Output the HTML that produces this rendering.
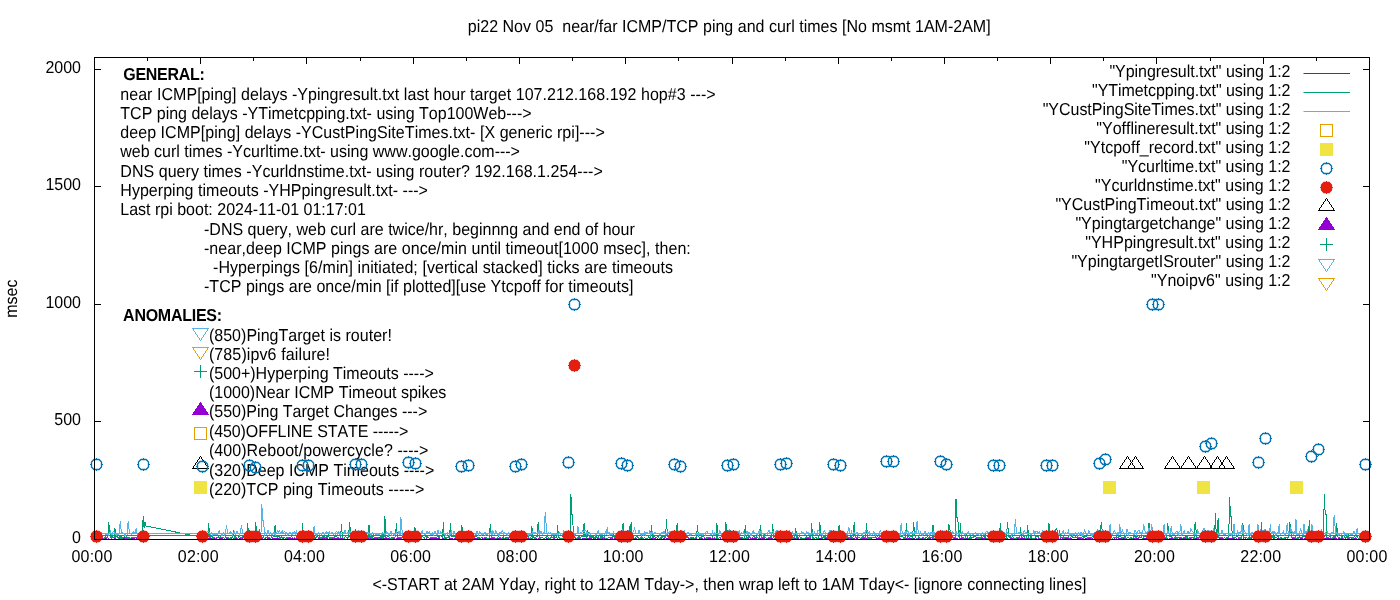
<!DOCTYPE html>
<html><head><meta charset="utf-8"><title>pi22 ping plot</title><style>html,body{margin:0;padding:0;background:#fff;overflow:hidden}</style></head><body>
<svg width="1400" height="600" viewBox="0 0 1400 600" style="display:block;font-family:'Liberation Sans',sans-serif;font-size:16px;font-kerning:none" text-rendering="geometricPrecision">
<rect width="1400" height="600" fill="#fff"/>
<path d="M94.5 539.5v-6.5M94.5 57.5v6.5M147.5 539.5v-3.5M147.5 57.5v3.5M200.5 539.5v-6.5M200.5 57.5v6.5M253.5 539.5v-3.5M253.5 57.5v3.5M306.5 539.5v-6.5M306.5 57.5v6.5M360.5 539.5v-3.5M360.5 57.5v3.5M413.5 539.5v-6.5M413.5 57.5v6.5M466.5 539.5v-3.5M466.5 57.5v3.5M519.5 539.5v-6.5M519.5 57.5v6.5M572.5 539.5v-3.5M572.5 57.5v3.5M625.5 539.5v-6.5M625.5 57.5v6.5M678.5 539.5v-3.5M678.5 57.5v3.5M732.5 539.5v-6.5M732.5 57.5v6.5M785.5 539.5v-3.5M785.5 57.5v3.5M838.5 539.5v-6.5M838.5 57.5v6.5M891.5 539.5v-3.5M891.5 57.5v3.5M944.5 539.5v-6.5M944.5 57.5v6.5M997.5 539.5v-3.5M997.5 57.5v3.5M1050.5 539.5v-6.5M1050.5 57.5v6.5M1103.5 539.5v-3.5M1103.5 57.5v3.5M1156.5 539.5v-6.5M1156.5 57.5v6.5M1210.5 539.5v-3.5M1210.5 57.5v3.5M1263.5 539.5v-6.5M1263.5 57.5v6.5M1316.5 539.5v-3.5M1316.5 57.5v3.5M1369.5 539.5v-6.5M1369.5 57.5v6.5M94.5 539.5h6.5M1369.5 539.5h-6.5M94.5 421.5h6.5M1369.5 421.5h-6.5M94.5 304.5h6.5M1369.5 304.5h-6.5M94.5 186.5h6.5M1369.5 186.5h-6.5M94.5 69.5h6.5M1369.5 69.5h-6.5" stroke="#000" stroke-width="1" fill="none"/>
<text transform="translate(81,543.1) scale(1,1.08)" text-anchor="end">0</text>
<text transform="translate(81,425.1) scale(1,1.08)" text-anchor="end">500</text>
<text transform="translate(81,308.1) scale(1,1.08)" text-anchor="end">1000</text>
<text transform="translate(81,190.1) scale(1,1.08)" text-anchor="end">1500</text>
<text transform="translate(81,73.1) scale(1,1.08)" text-anchor="end">2000</text>
<text transform="translate(91.9,562) scale(1,1.08)" text-anchor="middle" textLength="40.84" lengthAdjust="spacing">00:00</text>
<text transform="translate(198.2,562) scale(1,1.08)" text-anchor="middle" textLength="40.84" lengthAdjust="spacing">02:00</text>
<text transform="translate(304.4,562) scale(1,1.08)" text-anchor="middle" textLength="40.84" lengthAdjust="spacing">04:00</text>
<text transform="translate(410.6,562) scale(1,1.08)" text-anchor="middle" textLength="40.84" lengthAdjust="spacing">06:00</text>
<text transform="translate(516.9,562) scale(1,1.08)" text-anchor="middle" textLength="40.84" lengthAdjust="spacing">08:00</text>
<text transform="translate(623.1,562) scale(1,1.08)" text-anchor="middle" textLength="40.84" lengthAdjust="spacing">10:00</text>
<text transform="translate(729.4,562) scale(1,1.08)" text-anchor="middle" textLength="40.84" lengthAdjust="spacing">12:00</text>
<text transform="translate(835.6,562) scale(1,1.08)" text-anchor="middle" textLength="40.84" lengthAdjust="spacing">14:00</text>
<text transform="translate(941.9,562) scale(1,1.08)" text-anchor="middle" textLength="40.84" lengthAdjust="spacing">16:00</text>
<text transform="translate(1048.2,562) scale(1,1.08)" text-anchor="middle" textLength="40.84" lengthAdjust="spacing">18:00</text>
<text transform="translate(1154.4,562) scale(1,1.08)" text-anchor="middle" textLength="40.84" lengthAdjust="spacing">20:00</text>
<text transform="translate(1260.7,562) scale(1,1.08)" text-anchor="middle" textLength="40.84" lengthAdjust="spacing">22:00</text>
<text transform="translate(1366.9,562) scale(1,1.08)" text-anchor="middle" textLength="40.84" lengthAdjust="spacing">00:00</text>
<text transform="translate(729.2,32) scale(1,1.08)" text-anchor="middle" textLength="522.95" lengthAdjust="spacing" style="white-space:pre">pi22 Nov 05  near/far ICMP/TCP ping and curl times [No msmt 1AM-2AM]</text>
<text transform="translate(729.4,590) scale(1,1.08)" text-anchor="middle" textLength="714.06" lengthAdjust="spacing">&lt;-START at 2AM Yday, right to 12AM Tday-&gt;, then wrap left to 1AM Tday&lt;- [ignore connecting lines]</text>
<text transform="translate(17.3,298.6) rotate(-90) scale(1,1.08)" text-anchor="middle">msec</text>
<text transform="translate(123.3,80) scale(1,1.08)" font-weight="bold" textLength="81.55" lengthAdjust="spacing">GENERAL:</text>
<text transform="translate(120.3,100) scale(1,1.08)" textLength="595.31" lengthAdjust="spacing">near ICMP[ping] delays -Ypingresult.txt last hour target 107.212.168.192 hop#3 ---&gt;</text>
<text transform="translate(120.3,119) scale(1,1.08)">TCP ping delays -YTimetcpping.txt- using Top100Web---&gt;</text>
<text transform="translate(120.3,138) scale(1,1.08)" textLength="484.52" lengthAdjust="spacing">deep ICMP[ping] delays -YCustPingSiteTimes.txt- [X generic rpi]---&gt;</text>
<text transform="translate(120.3,157) scale(1,1.08)">web curl times -Ycurltime.txt- using www.google.com---&gt;</text>
<text transform="translate(120.3,177) scale(1,1.08)" textLength="482.47" lengthAdjust="spacing">DNS query times -Ycurldnstime.txt- using router? 192.168.1.254---&gt;</text>
<text transform="translate(120.3,196) scale(1,1.08)" textLength="307.63" lengthAdjust="spacing">Hyperping timeouts -YHPpingresult.txt- ---&gt;</text>
<text transform="translate(120.3,215) scale(1,1.08)">Last rpi boot: 2024-11-01 01:17:01</text>
<text transform="translate(204,235) scale(1,1.08)" textLength="430.76" lengthAdjust="spacing">-DNS query, web curl are twice/hr, beginnng and end of hour</text>
<text transform="translate(204,254) scale(1,1.08)" textLength="486.81" lengthAdjust="spacing">-near,deep ICMP pings are once/min until timeout[1000 msec], then:</text>
<text transform="translate(213,273) scale(1,1.08)" textLength="459.99" lengthAdjust="spacing">-Hyperpings [6/min] initiated; [vertical stacked] ticks are timeouts</text>
<text transform="translate(204,292) scale(1,1.08)" textLength="429.45" lengthAdjust="spacing">-TCP pings are once/min [if plotted][use Ytcpoff for timeouts]</text>
<text transform="translate(123.1,321) scale(1,1.08)" font-weight="bold" textLength="98.93" lengthAdjust="spacing">ANOMALIES:</text>
<text transform="translate(208.9,341) scale(1,1.08)" textLength="183.00" lengthAdjust="spacing">(850)PingTarget is router!</text>
<text transform="translate(208.9,360) scale(1,1.08)" textLength="121.17" lengthAdjust="spacing">(785)ipv6 failure!</text>
<text transform="translate(208.9,379) scale(1,1.08)">(500+)Hyperping Timeouts ----&gt;</text>
<text transform="translate(208.9,398) scale(1,1.08)">(1000)Near ICMP Timeout spikes</text>
<text transform="translate(208.9,417) scale(1,1.08)">(550)Ping Target Changes ---&gt;</text>
<text transform="translate(208.9,437) scale(1,1.08)" textLength="199.35" lengthAdjust="spacing">(450)OFFLINE STATE -----&gt;</text>
<text transform="translate(208.9,456) scale(1,1.08)" textLength="219.42" lengthAdjust="spacing">(400)Reboot/powercycle? ----&gt;</text>
<text transform="translate(208.9,475.5) scale(1,1.08)">(320)Deep ICMP Timeouts ----&gt;</text>
<text transform="translate(208.9,495) scale(1,1.08)" textLength="215.42" lengthAdjust="spacing">(220)TCP ping Timeouts -----&gt;</text>
<text transform="translate(1290.5,77.1) scale(1,1.08)" text-anchor="end" textLength="181.12" lengthAdjust="spacing">&quot;Ypingresult.txt&quot; using 1:2</text>
<text transform="translate(1290.5,96.1) scale(1,1.08)" text-anchor="end" textLength="198.50" lengthAdjust="spacing">&quot;YTimetcpping.txt&quot; using 1:2</text>
<text transform="translate(1290.5,115.1) scale(1,1.08)" text-anchor="end" textLength="247.80" lengthAdjust="spacing">&quot;YCustPingSiteTimes.txt&quot; using 1:2</text>
<text transform="translate(1290.5,134.1) scale(1,1.08)" text-anchor="end" textLength="194.17" lengthAdjust="spacing">&quot;Yofflineresult.txt&quot; using 1:2</text>
<text transform="translate(1290.5,153.1) scale(1,1.08)" text-anchor="end">&quot;Ytcpoff_record.txt&quot; using 1:2</text>
<text transform="translate(1290.5,172.1) scale(1,1.08)" text-anchor="end">&quot;Ycurltime.txt&quot; using 1:2</text>
<text transform="translate(1290.5,191.1) scale(1,1.08)" text-anchor="end" textLength="195.55" lengthAdjust="spacing">&quot;Ycurldnstime.txt&quot; using 1:2</text>
<text transform="translate(1290.5,210.1) scale(1,1.08)" text-anchor="end" textLength="235.07" lengthAdjust="spacing">&quot;YCustPingTimeout.txt&quot; using 1:2</text>
<text transform="translate(1290.5,229.1) scale(1,1.08)" text-anchor="end">&quot;Ypingtargetchange&quot; using 1:2</text>
<text transform="translate(1290.5,248.1) scale(1,1.08)" text-anchor="end" textLength="205.35" lengthAdjust="spacing">&quot;YHPpingresult.txt&quot; using 1:2</text>
<text transform="translate(1290.5,267.1) scale(1,1.08)" text-anchor="end" textLength="219.09" lengthAdjust="spacing">&quot;YpingtargetISrouter&quot; using 1:2</text>
<text transform="translate(1290.5,286.1) scale(1,1.08)" text-anchor="end" textLength="139.56" lengthAdjust="spacing">&quot;Ynoipv6&quot; using 1:2</text>
<path d="M1303.5 73.5H1350" stroke="#9400D3" stroke-width="1"/>
<path d="M1303.5 92.5H1350" stroke="#009E73" stroke-width="1"/>
<path d="M1303.5 111.5H1350" stroke="#56B4E9" stroke-width="1"/>
<rect x="1320.5" y="124.5" width="12.0" height="12.0" fill="none" stroke="#E69F00" stroke-width="1" shape-rendering="crispEdges"/>
<rect x="1320.0" y="143.0" width="13" height="13" fill="#F0E442" shape-rendering="crispEdges"/>
<path d="M1323.9 163.5H1329.1L1331.5 165.9V171.1L1329.1 173.5H1323.9L1321.5 171.1V165.9Z" fill="none" stroke="#0072B2" stroke-width="1.35" stroke-linejoin="round"/><path d="M1320.0 168.5h1M1332.0 168.5h1M1326.5 162.0v1M1326.5 174.0v1" fill="none" stroke="#0072B2" stroke-width="1" shape-rendering="crispEdges"/>
<path d="M1323.9 182.5H1329.1L1331.5 184.9V190.1L1329.1 192.5H1323.9L1321.5 190.1V184.9Z" fill="#E51E10" stroke="#E51E10" stroke-width="1.35" stroke-linejoin="round"/><path d="M1320.0 187.5h1M1332.0 187.5h1M1326.5 181.0v1M1326.5 193.0v1" fill="none" stroke="#E51E10" stroke-width="1" shape-rendering="crispEdges"/>
<polygon points="1318.5,210.5 1334.5,210.5 1326.5,198.5" fill="none" stroke="#000000" stroke-width="1" shape-rendering="crispEdges"/>
<polygon points="1318.5,229.5 1334.5,229.5 1326.5,217.5" fill="#9400D3" stroke="#9400D3" stroke-width="1" shape-rendering="crispEdges"/>
<path d="M1320.0 244.5h13M1326.5 238.0v13" stroke="#009E73" stroke-width="1" fill="none" shape-rendering="crispEdges"/>
<polygon points="1318.5,259.5 1334.5,259.5 1326.5,271.5" fill="none" stroke="#56B4E9" stroke-width="1" shape-rendering="crispEdges"/>
<polygon points="1318.5,278.5 1334.5,278.5 1326.5,290.5" fill="none" stroke="#E69F00" stroke-width="1" shape-rendering="crispEdges"/>
<polygon points="192.5,328.5 208.5,328.5 200.5,340.5" fill="none" stroke="#56B4E9" stroke-width="1" shape-rendering="crispEdges"/>
<polygon points="192.5,347.5 208.5,347.5 200.5,359.5" fill="none" stroke="#E69F00" stroke-width="1" shape-rendering="crispEdges"/>
<path d="M194.0 371.5h13M200.5 365.0v13" stroke="#009E73" stroke-width="1" fill="none" shape-rendering="crispEdges"/>
<polygon points="192.5,414.5 208.5,414.5 200.5,402.5" fill="#9400D3" stroke="#9400D3" stroke-width="1" shape-rendering="crispEdges"/>
<rect x="194.5" y="427.5" width="12.0" height="12.0" fill="none" stroke="#E69F00" stroke-width="1" shape-rendering="crispEdges"/>
<polygon points="192.5,468.5 208.5,468.5 200.5,456.5" fill="none" stroke="#000000" stroke-width="1" shape-rendering="crispEdges"/>
<rect x="194.0" y="481.0" width="13" height="13" fill="#F0E442" shape-rendering="crispEdges"/>
<clipPath id="c"><rect x="94.5" y="57.5" width="1275.0" height="482.0"/></clipPath>
<g clip-path="url(#c)" shape-rendering="crispEdges">
<path d="M200.8 539.1L201.6 539.2L202.5 538.7L203.4 538.6L204.3 539.3L205.2 539.0L206.1 538.7L206.9 538.5L207.8 538.7L208.7 539.1L209.6 539.0L210.5 538.7L211.4 538.6L212.3 538.0L213.1 539.3L214.0 538.8L214.9 539.2L215.8 539.0L216.7 538.9L217.6 539.2L218.5 539.2L219.3 539.0L220.2 538.7L221.1 538.9L222.0 538.4L222.9 539.2L223.8 539.0L224.7 539.0L225.5 539.3L226.4 539.0L227.3 538.8L228.2 539.2L229.1 538.6L230.0 539.2L230.9 538.8L231.7 539.0L232.6 539.2L233.5 538.7L234.4 538.7L235.3 538.6L236.2 538.8L237.1 539.1L237.9 539.0L238.8 539.1L239.7 538.6L240.6 539.1L241.5 538.6L242.4 539.0L243.2 539.2L244.1 539.2L245.0 539.2L245.9 539.0L246.8 539.1L247.7 538.7L248.6 539.2L249.4 538.6L250.3 538.9L251.2 538.6L252.1 538.6L253.0 539.0L253.9 538.7L254.8 538.9L255.6 539.0L256.5 538.9L257.4 538.9L258.3 539.1L259.2 539.1L260.1 539.1L261.0 538.6L261.8 538.7L262.7 538.9L263.6 539.1L264.5 538.7L265.4 539.0L266.3 539.2L267.2 538.9L268.0 538.7L268.9 538.8L269.8 539.0L270.7 539.0L271.6 539.2L272.5 538.6L273.4 538.8L274.2 539.0L275.1 538.6L276.0 538.9L276.9 539.1L277.8 538.5L278.7 538.9L279.6 538.8L280.4 538.6L281.3 539.0L282.2 539.1L283.1 538.8L284.0 539.1L284.9 539.0L285.8 539.1L286.6 538.8L287.5 538.8L288.4 538.9L289.3 539.0L290.2 538.6L291.1 539.0L291.9 538.8L292.8 539.1L293.7 539.1L294.6 538.0L295.5 538.8L296.4 539.0L297.3 538.6L298.1 538.7L299.0 538.6L299.9 538.8L300.8 538.9L301.7 538.6L302.6 538.9L303.5 538.8L304.3 538.8L305.2 538.7L306.1 538.8L307.0 538.7L307.9 538.7L308.8 538.7L309.7 538.6L310.5 538.8L311.4 539.1L312.3 538.6L313.2 539.1L314.1 538.6L315.0 539.2L315.9 538.9L316.7 539.1L317.6 539.2L318.5 538.9L319.4 538.9L320.3 539.0L321.2 538.2L322.1 539.1L322.9 538.8L323.8 539.1L324.7 538.8L325.6 538.7L326.5 538.7L327.4 538.8L328.2 539.0L329.1 539.1L330.0 538.6L330.9 539.2L331.8 538.4L332.7 538.6L333.6 539.2L334.4 539.1L335.3 538.6L336.2 539.0L337.1 538.9L338.0 539.0L338.9 538.7L339.8 538.6L340.6 538.8L341.5 538.6L342.4 538.6L343.3 539.0L344.2 539.2L345.1 539.0L346.0 539.1L346.8 539.0L347.7 538.7L348.6 539.1L349.5 539.2L350.4 539.1L351.3 538.9L352.2 538.8L353.0 538.6L353.9 539.1L354.8 538.7L355.7 538.8L356.6 538.7L357.5 539.1L358.4 538.6L359.2 538.6L360.1 538.9L361.0 538.6L361.9 539.2L362.8 538.7L363.7 539.0L364.6 539.3L365.4 538.6L366.3 538.6L367.2 538.9L368.1 539.2L369.0 538.6L369.9 538.7L370.8 539.1L371.6 538.7L372.5 538.6L373.4 538.2L374.3 538.7L375.2 538.7L376.1 538.9L376.9 538.8L377.8 539.0L378.7 538.9L379.6 537.9L380.5 538.8L381.4 538.7L382.3 538.6L383.1 538.6L384.0 539.2L384.9 538.9L385.8 539.0L386.7 538.7L387.6 538.9L388.5 538.8L389.3 538.9L390.2 538.8L391.1 539.0L392.0 538.8L392.9 538.9L393.8 538.1L394.7 538.6L395.5 539.3L396.4 539.0L397.3 538.7L398.2 538.6L399.1 539.0L400.0 538.7L400.9 539.2L401.7 538.8L402.6 539.2L403.5 539.0L404.4 538.8L405.3 539.1L406.2 538.8L407.1 538.6L407.9 539.2L408.8 538.7L409.7 539.2L410.6 538.8L411.5 538.7L412.4 539.2L413.2 538.6L414.1 538.7L415.0 539.0L415.9 538.8L416.8 539.0L417.7 538.6L418.6 538.6L419.4 538.8L420.3 539.0L421.2 539.1L422.1 539.0L423.0 539.1L423.9 539.1L424.8 538.9L425.6 539.1L426.5 538.7L427.4 539.2L428.3 539.1L429.2 539.1L430.1 539.0L431.0 538.7L431.8 539.0L432.7 538.9L433.6 538.8L434.5 538.5L435.4 538.7L436.3 538.7L437.2 538.6L438.0 538.7L438.9 538.6L439.8 539.2L440.7 539.1L441.6 539.3L442.5 538.9L443.4 538.7L444.2 538.6L445.1 538.6L446.0 538.8L446.9 538.8L447.8 539.2L448.7 539.2L449.6 538.7L450.4 538.8L451.3 538.6L452.2 538.6L453.1 539.1L454.0 539.0L454.9 538.7L455.8 538.7L456.6 538.8L457.5 538.8L458.4 538.6L459.3 538.7L460.2 538.7L461.1 539.1L461.9 539.0L462.8 539.2L463.7 538.4L464.6 538.7L465.5 539.0L466.4 537.9L467.3 538.9L468.1 539.1L469.0 538.7L469.9 538.9L470.8 539.2L471.7 538.9L472.6 539.1L473.5 539.2L474.3 539.0L475.2 538.6L476.1 539.2L477.0 538.8L477.9 538.8L478.8 538.7L479.7 538.8L480.5 538.6L481.4 539.2L482.3 539.0L483.2 538.9L484.1 538.6L485.0 538.2L485.9 539.1L486.7 538.9L487.6 538.9L488.5 539.1L489.4 538.1L490.3 538.7L491.2 539.0L492.1 538.6L492.9 539.1L493.8 538.8L494.7 538.8L495.6 539.2L496.5 538.7L497.4 538.6L498.2 539.1L499.1 538.7L500.0 538.9L500.9 538.8L501.8 538.5L502.7 539.0L503.6 538.9L504.4 538.9L505.3 539.1L506.2 538.8L507.1 538.9L508.0 538.7L508.9 539.1L509.8 539.1L510.6 538.7L511.5 539.2L512.4 538.1L513.3 539.0L514.2 539.1L515.1 539.1L516.0 538.7L516.8 538.9L517.7 538.8L518.6 539.0L519.5 539.0L520.4 538.9L521.3 538.9L522.2 538.0L523.0 538.9L523.9 539.2L524.8 538.7L525.7 538.9L526.6 539.0L527.5 538.9L528.4 538.9L529.2 538.8L530.1 539.1L531.0 538.7L531.9 538.9L532.8 538.9L533.7 539.1L534.6 538.8L535.4 539.2L536.3 538.7L537.2 539.1L538.1 538.9L539.0 539.0L539.9 538.6L540.8 539.1L541.6 539.2L542.5 539.1L543.4 539.1L544.3 539.0L545.2 539.0L546.1 539.0L546.9 538.8L547.8 539.1L548.7 539.2L549.6 538.9L550.5 538.6L551.4 539.2L552.3 539.1L553.1 539.2L554.0 538.6L554.9 539.2L555.8 539.0L556.7 539.2L557.6 538.6L558.5 539.1L559.3 538.8L560.2 538.7L561.1 539.0L562.0 539.2L562.9 539.1L563.8 538.8L564.7 538.7L565.5 538.8L566.4 538.8L567.3 538.9L568.2 538.1L569.1 539.1L570.0 538.8L570.9 539.1L571.7 539.1L572.6 538.7L573.5 538.7L574.4 539.1L575.3 538.8L576.2 538.9L577.1 539.2L577.9 539.2L578.8 538.8L579.7 539.0L580.6 538.9L581.5 539.2L582.4 538.8L583.2 538.8L584.1 538.8L585.0 538.6L585.9 538.0L586.8 539.2L587.7 538.9L588.6 538.7L589.4 539.0L590.3 538.9L591.2 538.9L592.1 539.2L593.0 539.2L593.9 538.5L594.8 538.6L595.6 539.0L596.5 539.2L597.4 538.7L598.3 539.2L599.2 538.6L600.1 538.8L601.0 538.7L601.8 538.9L602.7 538.8L603.6 539.2L604.5 538.9L605.4 539.1L606.3 538.8L607.2 539.1L608.0 539.1L608.9 539.0L609.8 539.0L610.7 538.6L611.6 538.7L612.5 538.9L613.4 539.0L614.2 539.0L615.1 538.7L616.0 539.0L616.9 538.9L617.8 538.8L618.7 538.9L619.6 539.2L620.4 538.7L621.3 539.2L622.2 538.7L623.1 538.6L624.0 539.1L624.9 539.2L625.8 539.0L626.6 538.9L627.5 539.0L628.4 538.7L629.3 538.9L630.2 538.9L631.1 538.3L631.9 538.9L632.8 539.2L633.7 538.8L634.6 539.0L635.5 538.7L636.4 538.6L637.3 539.0L638.1 539.1L639.0 538.6L639.9 539.1L640.8 538.8L641.7 539.0L642.6 538.9L643.5 539.0L644.3 539.1L645.2 539.1L646.1 539.1L647.0 538.7L647.9 538.9L648.8 539.1L649.7 539.0L650.5 539.0L651.4 538.8L652.3 538.8L653.2 539.2L654.1 538.8L655.0 538.1L655.9 538.7L656.7 539.3L657.6 539.0L658.5 539.2L659.4 538.8L660.3 538.9L661.2 538.6L662.1 539.1L662.9 539.2L663.8 538.6L664.7 539.0L665.6 539.2L666.5 539.0L667.4 538.9L668.2 538.9L669.1 538.9L670.0 539.1L670.9 538.7L671.8 538.8L672.7 538.9L673.6 538.7L674.4 538.3L675.3 538.6L676.2 538.3L677.1 539.1L678.0 538.8L678.9 538.7L679.8 539.2L680.6 539.0L681.5 539.1L682.4 539.2L683.3 539.2L684.2 539.2L685.1 539.1L686.0 539.0L686.8 539.0L687.7 539.0L688.6 538.9L689.5 539.1L690.4 539.0L691.3 538.9L692.2 538.7L693.0 538.1L693.9 538.9L694.8 539.0L695.7 538.6L696.6 539.0L697.5 539.0L698.4 539.1L699.2 538.9L700.1 538.9L701.0 538.8L701.9 538.9L702.8 538.8L703.7 539.1L704.6 538.8L705.4 539.0L706.3 539.2L707.2 538.9L708.1 538.8L709.0 538.6L709.9 539.1L710.8 538.7L711.6 538.8L712.5 538.7L713.4 539.1L714.3 538.7L715.2 538.2L716.1 539.2L716.9 538.7L717.8 538.8L718.7 539.1L719.6 539.1L720.5 539.0L721.4 539.2L722.3 538.6L723.1 538.7L724.0 538.6L724.9 539.1L725.8 538.9L726.7 538.9L727.6 539.2L728.5 538.7L729.3 538.6L730.2 539.0L731.1 538.9L732.0 539.2L732.9 538.8L733.8 539.1L734.7 538.7L735.5 539.2L736.4 539.1L737.3 538.6L738.2 538.6L739.1 539.2L740.0 538.7L740.9 539.2L741.7 538.7L742.6 538.7L743.5 539.1L744.4 539.2L745.3 538.6L746.2 539.0L747.1 538.8L747.9 538.9L748.8 538.8L749.7 539.1L750.6 538.9L751.5 538.6L752.4 539.2L753.2 538.6L754.1 539.2L755.0 538.6L755.9 539.1L756.8 538.9L757.7 539.1L758.6 538.9L759.4 538.8L760.3 538.9L761.2 539.2L762.1 538.7L763.0 539.2L763.9 538.7L764.8 539.1L765.6 539.2L766.5 539.3L767.4 539.1L768.3 538.6L769.2 539.0L770.1 538.8L771.0 538.7L771.8 538.7L772.7 538.7L773.6 539.3L774.5 539.0L775.4 539.2L776.3 538.7L777.2 538.8L778.0 539.1L778.9 539.2L779.8 538.8L780.7 538.7L781.6 538.9L782.5 538.8L783.4 538.7L784.2 539.2L785.1 539.0L786.0 539.2L786.9 538.8L787.8 538.6L788.7 539.0L789.6 539.1L790.4 539.2L791.3 538.8L792.2 538.9L793.1 538.9L794.0 538.7L794.9 538.6L795.8 538.7L796.6 538.7L797.5 539.0L798.4 538.9L799.3 539.0L800.2 539.0L801.1 538.8L801.9 539.0L802.8 539.0L803.7 539.0L804.6 539.2L805.5 538.8L806.4 538.7L807.3 538.9L808.1 539.0L809.0 538.6L809.9 539.2L810.8 538.8L811.7 539.1L812.6 539.0L813.5 538.6L814.3 538.6L815.2 539.2L816.1 538.9L817.0 538.8L817.9 538.8L818.8 539.1L819.7 538.8L820.5 538.9L821.4 538.2L822.3 538.6L823.2 539.1L824.1 539.0L825.0 538.7L825.9 538.6L826.7 539.1L827.6 538.9L828.5 539.1L829.4 539.2L830.3 539.1L831.2 538.8L832.1 539.1L832.9 538.6L833.8 538.6L834.7 538.9L835.6 539.1L836.5 538.6L837.4 538.7L838.2 538.7L839.1 538.4L840.0 538.8L840.9 538.7L841.8 539.2L842.7 539.0L843.6 538.7L844.4 539.1L845.3 538.7L846.2 538.9L847.1 538.7L848.0 538.8L848.9 538.7L849.8 538.8L850.6 538.9L851.5 538.8L852.4 539.2L853.3 538.8L854.2 538.9L855.1 539.1L856.0 539.2L856.8 538.7L857.7 538.8L858.6 539.2L859.5 539.2L860.4 538.8L861.3 539.0L862.2 538.9L863.0 539.0L863.9 538.8L864.8 538.9L865.7 539.2L866.6 538.7L867.5 539.1L868.4 539.1L869.2 539.1L870.1 539.0L871.0 538.7L871.9 539.3L872.8 539.2L873.7 539.0L874.6 539.0L875.4 539.1L876.3 538.9L877.2 539.1L878.1 538.8L879.0 538.7L879.9 538.9L880.8 538.7L881.6 539.0L882.5 538.7L883.4 539.1L884.3 538.7L885.2 538.7L886.1 539.0L886.9 538.8L887.8 539.0L888.7 539.0L889.6 539.0L890.5 539.2L891.4 538.7L892.3 539.2L893.1 539.0L894.0 538.8L894.9 538.6L895.8 539.2L896.7 539.1L897.6 539.1L898.5 538.6L899.3 538.6L900.2 538.7L901.1 539.0L902.0 539.0L902.9 539.1L903.8 538.7L904.7 538.1L905.5 539.1L906.4 538.8L907.3 538.8L908.2 538.7L909.1 538.6L910.0 538.7L910.9 539.1L911.7 538.7L912.6 538.9L913.5 539.0L914.4 538.6L915.3 539.0L916.2 539.2L917.1 538.7L917.9 539.2L918.8 538.7L919.7 539.3L920.6 539.1L921.5 539.1L922.4 538.1L923.2 538.8L924.1 538.7L925.0 538.9L925.9 539.0L926.8 539.0L927.7 538.7L928.6 539.3L929.4 539.0L930.3 538.9L931.2 539.3L932.1 538.9L933.0 539.1L933.9 538.7L934.8 539.1L935.6 538.7L936.5 538.1L937.4 538.9L938.3 538.7L939.2 539.0L940.1 538.9L941.0 538.8L941.8 538.6L942.7 539.0L943.6 538.6L944.5 538.9L945.4 539.3L946.3 538.9L947.2 538.9L948.0 539.0L948.9 538.6L949.8 538.7L950.7 539.1L951.6 538.7L952.5 539.1L953.4 538.8L954.2 538.8L955.1 539.1L956.0 538.7L956.9 539.2L957.8 538.8L958.7 539.1L959.6 538.8L960.4 538.9L961.3 538.8L962.2 539.1L963.1 538.7L964.0 539.1L964.9 539.1L965.7 538.4L966.6 539.0L967.5 538.8L968.4 538.6L969.3 538.9L970.2 538.9L971.1 539.0L971.9 539.0L972.8 539.1L973.7 539.2L974.6 539.1L975.5 538.9L976.4 538.8L977.3 538.9L978.1 538.8L979.0 538.6L979.9 539.2L980.8 538.8L981.7 538.8L982.6 538.9L983.5 539.2L984.3 538.1L985.2 538.6L986.1 539.1L987.0 538.8L987.9 539.0L988.8 538.7L989.7 539.0L990.5 539.2L991.4 538.7L992.3 538.7L993.2 539.1L994.1 538.6L995.0 539.2L995.9 539.0L996.7 539.2L997.6 538.6L998.5 538.7L999.4 538.9L1000.3 539.0L1001.2 539.2L1002.1 539.0L1002.9 537.9L1003.8 539.2L1004.7 538.9L1005.6 538.8L1006.5 538.7L1007.4 538.8L1008.2 539.1L1009.1 538.9L1010.0 539.2L1010.9 538.6L1011.8 538.6L1012.7 539.2L1013.6 538.9L1014.4 538.7L1015.3 538.7L1016.2 539.2L1017.1 539.0L1018.0 538.8L1018.9 538.6L1019.8 539.1L1020.6 538.6L1021.5 538.6L1022.4 538.6L1023.3 538.9L1024.2 538.9L1025.1 539.2L1026.0 539.1L1026.8 539.3L1027.7 538.6L1028.6 538.7L1029.5 538.9L1030.4 538.9L1031.3 539.0L1032.2 538.7L1033.0 538.7L1033.9 538.8L1034.8 538.6L1035.7 538.6L1036.6 538.7L1037.5 539.1L1038.4 538.9L1039.2 538.6L1040.1 539.0L1041.0 538.8L1041.9 539.1L1042.8 539.2L1043.7 538.8L1044.6 539.0L1045.4 539.0L1046.3 538.6L1047.2 539.0L1048.1 539.2L1049.0 539.2L1049.9 539.0L1050.8 539.0L1051.6 539.2L1052.5 539.2L1053.4 538.6L1054.3 539.1L1055.2 538.7L1056.1 538.7L1056.9 538.7L1057.8 538.7L1058.7 539.1L1059.6 539.2L1060.5 538.6L1061.4 539.1L1062.3 538.8L1063.1 538.7L1064.0 539.1L1064.9 539.3L1065.8 538.8L1066.7 539.0L1067.6 538.7L1068.5 538.6L1069.3 539.1L1070.2 538.9L1071.1 538.8L1072.0 539.2L1072.9 539.1L1073.8 539.2L1074.7 539.2L1075.5 539.2L1076.4 539.3L1077.3 538.9L1078.2 537.9L1079.1 538.8L1080.0 538.8L1080.9 538.7L1081.7 538.6L1082.6 538.6L1083.5 539.2L1084.4 539.0L1085.3 539.0L1086.2 538.9L1087.1 538.6L1087.9 539.0L1088.8 538.7L1089.7 538.6L1090.6 538.7L1091.5 538.9L1092.4 538.9L1093.2 539.0L1094.1 539.0L1095.0 539.1L1095.9 538.8L1096.8 538.8L1097.7 538.6L1098.6 538.6L1099.4 538.8L1100.3 539.3L1101.2 539.2L1102.1 539.1L1103.0 539.2L1103.9 538.8L1104.8 538.6L1105.6 538.1L1106.5 539.1L1107.4 539.1L1108.3 539.0L1109.2 539.2L1110.1 538.8L1111.0 539.0L1111.8 539.1L1112.7 538.8L1113.6 539.2L1114.5 539.0L1115.4 539.1L1116.3 538.7L1117.2 539.2L1118.0 539.2L1118.9 538.9L1119.8 538.7L1120.7 538.9L1121.6 539.0L1122.5 539.0L1123.4 538.6L1124.2 539.0L1125.1 538.6L1126.0 538.6L1126.9 539.0L1127.8 539.3L1128.7 539.2L1129.6 538.7L1130.4 538.9L1131.3 538.6L1132.2 538.7L1133.1 538.6L1134.0 538.8L1134.9 538.7L1135.8 539.1L1136.6 538.8L1137.5 539.2L1138.4 538.0L1139.3 539.1L1140.2 539.2L1141.1 539.1L1141.9 539.1L1142.8 538.6L1143.7 538.7L1144.6 538.8L1145.5 538.9L1146.4 538.7L1147.3 539.2L1148.1 538.2L1149.0 539.1L1149.9 538.6L1150.8 539.2L1151.7 539.2L1152.6 539.2L1153.5 538.9L1154.3 539.2L1155.2 538.9L1156.1 538.9L1157.0 538.9L1157.9 539.2L1158.8 539.0L1159.7 539.0L1160.5 539.1L1161.4 539.1L1162.3 538.6L1163.2 538.8L1164.1 539.0L1165.0 538.8L1165.9 539.0L1166.7 538.8L1167.6 539.0L1168.5 539.2L1169.4 538.8L1170.3 538.6L1171.2 539.1L1172.1 538.7L1172.9 538.9L1173.8 538.7L1174.7 538.8L1175.6 538.9L1176.5 538.8L1177.4 539.2L1178.2 539.0L1179.1 539.1L1180.0 538.9L1180.9 538.8L1181.8 538.7L1182.7 538.8L1183.6 538.8L1184.4 538.8L1185.3 538.9L1186.2 539.1L1187.1 538.7L1188.0 538.6L1188.9 539.2L1189.8 539.2L1190.6 538.8L1191.5 539.2L1192.4 539.2L1193.3 538.6L1194.2 539.2L1195.1 538.9L1196.0 538.6L1196.8 538.9L1197.7 539.1L1198.6 538.9L1199.5 539.2L1200.4 538.7L1201.3 539.2L1202.2 538.7L1203.0 539.1L1203.9 539.0L1204.8 538.9L1205.7 538.7L1206.6 538.8L1207.5 538.7L1208.4 539.1L1209.2 538.8L1210.1 539.0L1211.0 539.0L1211.9 538.6L1212.8 538.6L1213.7 538.6L1214.6 539.2L1215.4 538.7L1216.3 539.0L1217.2 539.1L1218.1 539.0L1219.0 539.1L1219.9 538.9L1220.8 538.9L1221.6 539.0L1222.5 538.9L1223.4 538.6L1224.3 539.1L1225.2 539.0L1226.1 538.6L1226.9 538.7L1227.8 539.1L1228.7 538.7L1229.6 538.8L1230.5 539.1L1231.4 538.5L1232.3 538.7L1233.1 539.0L1234.0 538.6L1234.9 539.1L1235.8 539.3L1236.7 538.9L1237.6 539.3L1238.5 538.7L1239.3 539.2L1240.2 539.1L1241.1 539.2L1242.0 539.0L1242.9 539.1L1243.8 538.8L1244.7 539.1L1245.5 538.6L1246.4 539.1L1247.3 539.2L1248.2 538.6L1249.1 538.9L1250.0 539.1L1250.9 538.6L1251.7 538.7L1252.6 539.2L1253.5 539.2L1254.4 538.9L1255.3 538.7L1256.2 539.2L1257.1 539.3L1257.9 538.6L1258.8 538.9L1259.7 538.7L1260.6 538.1L1261.5 539.0L1262.4 538.7L1263.2 538.7L1264.1 538.9L1265.0 538.6L1265.9 539.2L1266.8 539.1L1267.7 538.7L1268.6 539.1L1269.4 539.1L1270.3 538.9L1271.2 538.8L1272.1 539.3L1273.0 539.1L1273.9 538.6L1274.8 539.0L1275.6 539.2L1276.5 539.1L1277.4 539.0L1278.3 538.8L1279.2 538.8L1280.1 539.2L1281.0 539.0L1281.8 538.7L1282.7 539.2L1283.6 539.0L1284.5 539.0L1285.4 538.7L1286.3 539.0L1287.2 539.0L1288.0 539.0L1288.9 539.0L1289.8 539.0L1290.7 539.1L1291.6 539.0L1292.5 539.0L1293.4 538.6L1294.2 538.9L1295.1 539.0L1296.0 539.2L1296.9 538.6L1297.8 539.1L1298.7 539.0L1299.6 539.0L1300.4 538.7L1301.3 539.0L1302.2 538.0L1303.1 539.2L1304.0 539.0L1304.9 538.8L1305.8 538.8L1306.6 539.1L1307.5 538.9L1308.4 538.7L1309.3 538.9L1310.2 538.7L1311.1 538.9L1311.9 539.1L1312.8 538.9L1313.7 538.8L1314.6 538.6L1315.5 538.7L1316.4 539.0L1317.3 539.0L1318.1 539.0L1319.0 539.2L1319.9 538.8L1320.8 538.9L1321.7 538.8L1322.6 539.0L1323.5 539.0L1324.3 538.9L1325.2 538.8L1326.1 538.8L1327.0 538.7L1327.9 538.6L1328.8 538.6L1329.7 539.2L1330.5 538.7L1331.4 539.1L1332.3 538.7L1333.2 539.0L1334.1 538.8L1335.0 538.6L1335.9 538.8L1336.7 538.7L1337.6 539.2L1338.5 538.8L1339.4 538.6L1340.3 539.0L1341.2 539.0L1342.1 538.6L1342.9 538.6L1343.8 539.2L1344.7 539.0L1345.6 538.7L1346.5 539.1L1347.4 538.6L1348.2 538.8L1349.1 539.0L1350.0 539.0L1350.9 539.2L1351.8 538.8L1352.7 538.8L1353.6 539.0L1354.4 538.9L1355.3 538.8L1356.2 538.1L1357.1 539.2L1358.0 539.1L1358.9 539.3L1359.8 538.6L1360.6 538.7L1361.5 539.1L1362.4 539.1L1363.3 538.8L1364.2 538.8L1365.1 538.8L1366.0 538.8L1366.8 538.6L1367.7 538.7L1368.6 538.7L1369.5 539.5L94.5 539.5L95.4 538.7L96.3 538.8L97.2 538.6L98.0 538.8L98.9 538.9L99.8 538.9L100.7 538.6L101.6 539.1L102.5 538.9L103.4 538.8L104.2 539.0L105.1 538.6L106.0 538.8L106.9 539.2L107.8 539.1L108.7 538.6L109.6 539.2L110.4 539.1L111.3 539.3L112.2 539.1L113.1 539.1L114.0 539.2L114.9 538.7L115.8 539.2L116.6 539.2L117.5 539.2L118.4 539.1L119.3 538.8L120.2 538.9L121.1 538.9L121.9 539.0L122.8 538.9L123.7 538.7L124.6 537.9L125.5 538.9L126.4 539.0L127.3 538.8L128.1 538.9L129.0 539.2L129.9 538.8L130.8 538.9L131.7 538.9L132.6 538.6L133.5 538.2L134.3 539.0L135.2 539.0L136.1 539.1L137.0 538.8L137.9 538.8L138.8 538.6L139.7 539.0L140.5 538.6L141.4 538.7L142.3 538.9L143.2 538.8L144.1 539.1L145.0 539.1L145.9 538.9" fill="none" stroke="#9400D3" stroke-width="1.0" stroke-linejoin="round"/>
<path d="M200.8 538.4L201.6 538.6L202.5 537.5L203.4 537.4L204.3 536.6L205.2 538.8L206.1 537.2L206.9 537.9L207.8 538.5L208.7 523.5L209.6 537.3L210.5 537.4L211.4 535.7L212.3 537.1L213.1 538.7L214.0 537.7L214.9 538.0L215.8 538.6L216.7 537.1L217.6 537.1L218.5 536.9L219.3 538.0L220.2 536.7L221.1 537.8L222.0 536.8L222.9 537.3L223.8 537.4L224.7 538.6L225.5 536.5L226.4 537.1L227.3 537.1L228.2 537.8L229.1 538.6L230.0 538.7L230.9 537.7L231.7 537.2L232.6 537.3L233.5 530.2L234.4 538.3L235.3 536.7L236.2 537.8L237.1 538.0L237.9 538.3L238.8 536.9L239.7 536.7L240.6 537.4L241.5 538.5L242.4 536.8L243.2 537.1L244.1 538.1L245.0 537.7L245.9 538.3L246.8 537.3L247.7 523.5L248.6 536.5L249.4 535.7L250.3 538.7L251.2 537.5L252.1 536.5L253.0 535.0L253.9 538.2L254.8 538.7L255.6 522.3L256.5 530.1L257.4 536.5L258.3 538.3L259.2 529.6L260.1 538.4L261.0 538.0L261.8 537.6L262.7 537.0L263.6 536.9L264.5 538.6L265.4 537.1L266.3 537.7L267.2 536.7L268.0 537.5L268.9 536.9L269.8 537.7L270.7 538.3L271.6 536.9L272.5 537.1L273.4 536.7L274.2 536.5L275.1 525.2L276.0 536.7L276.9 536.5L277.8 537.5L278.7 535.0L279.6 538.6L280.4 538.4L281.3 536.9L282.2 538.4L283.1 537.1L284.0 537.2L284.9 537.6L285.8 538.6L286.6 537.6L287.5 537.1L288.4 537.6L289.3 537.5L290.2 537.9L291.1 536.7L291.9 536.8L292.8 537.6L293.7 538.3L294.6 537.6L295.5 538.7L296.4 537.6L297.3 536.9L298.1 537.6L299.0 538.6L299.9 537.8L300.8 536.6L301.7 537.7L302.6 523.5L303.5 536.7L304.3 538.0L305.2 537.3L306.1 538.5L307.0 538.7L307.9 538.3L308.8 538.0L309.7 534.9L310.5 538.5L311.4 538.2L312.3 537.5L313.2 537.9L314.1 537.6L315.0 538.3L315.9 537.3L316.7 536.8L317.6 536.8L318.5 537.1L319.4 536.7L320.3 538.1L321.2 538.3L322.1 536.7L322.9 538.2L323.8 535.4L324.7 537.8L325.6 538.5L326.5 536.5L327.4 537.2L328.2 534.9L329.1 537.0L330.0 537.2L330.9 538.5L331.8 537.5L332.7 537.5L333.6 538.4L334.4 536.8L335.3 536.4L336.2 536.6L337.1 537.0L338.0 537.7L338.9 537.8L339.8 538.8L340.6 536.8L341.5 524.5L342.4 537.8L343.3 538.4L344.2 538.8L345.1 536.9L346.0 536.8L346.8 537.8L347.7 537.6L348.6 536.9L349.5 522.3L350.4 530.1L351.3 537.8L352.2 536.7L353.0 537.0L353.9 537.8L354.8 538.6L355.7 529.7L356.6 537.3L357.5 536.6L358.4 538.0L359.2 537.5L360.1 537.9L361.0 537.3L361.9 537.0L362.8 538.7L363.7 537.1L364.6 537.2L365.4 537.1L366.3 536.7L367.2 537.6L368.1 537.5L369.0 525.2L369.9 538.6L370.8 533.9L371.6 538.4L372.5 538.4L373.4 534.2L374.3 537.8L375.2 537.4L376.1 538.1L376.9 537.5L377.8 537.1L378.7 538.8L379.6 538.7L380.5 537.0L381.4 536.7L382.3 538.7L383.1 533.6L384.0 537.8L384.9 516.2L385.8 537.6L386.7 537.1L387.6 536.5L388.5 535.3L389.3 537.7L390.2 538.7L391.1 538.5L392.0 537.2L392.9 538.2L393.8 537.8L394.7 537.5L395.5 536.6L396.4 523.0L397.3 537.0L398.2 538.0L399.1 537.2L400.0 537.4L400.9 537.0L401.7 538.2L402.6 536.6L403.5 537.8L404.4 537.8L405.3 538.6L406.2 536.4L407.1 537.5L407.9 537.9L408.8 538.3L409.7 537.0L410.6 536.0L411.5 537.3L412.4 538.3L413.2 538.2L414.1 537.9L415.0 527.5L415.9 537.5L416.8 536.6L417.7 535.0L418.6 536.8L419.4 537.7L420.3 538.1L421.2 538.6L422.1 536.2L423.0 537.1L423.9 538.1L424.8 538.0L425.6 535.6L426.5 537.5L427.4 536.6L428.3 537.8L429.2 538.1L430.1 537.9L431.0 536.7L431.8 537.9L432.7 537.9L433.6 537.9L434.5 537.5L435.4 537.5L436.3 537.5L437.2 537.0L438.0 536.4L438.9 537.5L439.8 536.5L440.7 535.1L441.6 536.7L442.5 537.1L443.4 522.3L444.2 538.5L445.1 537.3L446.0 538.3L446.9 537.6L447.8 537.9L448.7 536.5L449.6 537.6L450.4 523.0L451.3 536.6L452.2 536.9L453.1 536.8L454.0 536.8L454.9 536.5L455.8 537.6L456.6 536.9L457.5 537.8L458.4 537.1L459.3 537.9L460.2 538.3L461.1 538.1L461.9 525.2L462.8 538.5L463.7 537.0L464.6 538.6L465.5 537.4L466.4 538.1L467.3 538.3L468.1 537.1L469.0 538.3L469.9 538.1L470.8 537.0L471.7 537.5L472.6 537.7L473.5 536.7L474.3 538.0L475.2 536.5L476.1 535.2L477.0 536.9L477.9 537.6L478.8 538.1L479.7 537.2L480.5 538.8L481.4 537.9L482.3 537.1L483.2 538.4L484.1 538.0L485.0 536.8L485.9 537.3L486.7 538.2L487.6 538.4L488.5 538.8L489.4 536.8L490.3 524.5L491.2 535.5L492.1 537.7L492.9 537.4L493.8 538.1L494.7 537.8L495.6 538.6L496.5 538.3L497.4 537.6L498.2 536.8L499.1 537.1L500.0 537.7L500.9 537.9L501.8 538.5L502.7 537.7L503.6 536.8L504.4 538.8L505.3 537.1L506.2 537.5L507.1 538.8L508.0 536.9L508.9 537.3L509.8 537.9L510.6 538.1L511.5 537.9L512.4 538.2L513.3 537.1L514.2 536.6L515.1 537.1L516.0 536.4L516.8 538.6L517.7 537.1L518.6 537.8L519.5 536.7L520.4 538.4L521.3 534.8L522.2 537.8L523.0 537.3L523.9 536.9L524.8 538.0L525.7 538.8L526.6 537.1L527.5 536.9L528.4 536.3L529.2 538.0L530.1 538.5L531.0 537.6L531.9 526.6L532.8 538.4L533.7 536.7L534.6 538.0L535.4 538.5L536.3 536.5L537.2 537.1L538.1 522.3L539.0 530.1L539.9 538.6L540.8 537.4L541.6 538.0L542.5 537.9L543.4 538.5L544.3 538.5L545.2 537.5L546.1 537.5L546.9 536.7L547.8 536.9L548.7 538.5L549.6 538.1L550.5 538.2L551.4 536.8L552.3 537.4L553.1 538.4L554.0 536.6L554.9 538.1L555.8 537.1L556.7 537.4L557.6 525.2L558.5 537.7L559.3 537.9L560.2 538.4L561.1 538.2L562.0 538.0L562.9 538.7L563.8 538.5L564.7 537.4L565.5 537.8L566.4 537.2L567.3 537.0L568.2 536.5L569.1 536.8L570.0 537.8L570.9 493.9L571.7 514.4L572.6 514.4L573.5 538.7L574.4 536.7L575.3 537.4L576.2 538.1L577.1 538.6L577.9 537.7L578.8 535.6L579.7 537.6L580.6 538.1L581.5 535.2L582.4 536.5L583.2 536.8L584.1 523.0L585.0 537.0L585.9 534.1L586.8 538.5L587.7 530.7L588.6 535.1L589.4 536.9L590.3 538.0L591.2 535.7L592.1 538.1L593.0 536.6L593.9 537.7L594.8 538.1L595.6 536.7L596.5 536.8L597.4 537.7L598.3 536.7L599.2 538.3L600.1 538.3L601.0 536.3L601.8 538.1L602.7 536.8L603.6 538.5L604.5 536.6L605.4 538.6L606.3 538.1L607.2 538.3L608.0 538.2L608.9 536.9L609.8 537.2L610.7 537.4L611.6 538.1L612.5 537.2L613.4 534.1L614.2 537.8L615.1 535.6L616.0 538.1L616.9 536.0L617.8 537.0L618.7 538.1L619.6 538.4L620.4 535.0L621.3 537.0L622.2 536.6L623.1 523.0L624.0 537.3L624.9 537.2L625.8 537.6L626.6 536.8L627.5 537.6L628.4 538.4L629.3 526.6L630.2 538.2L631.1 522.3L631.9 536.9L632.8 537.6L633.7 537.4L634.6 538.7L635.5 537.1L636.4 536.7L637.3 536.8L638.1 537.8L639.0 538.2L639.9 538.6L640.8 537.5L641.7 536.9L642.6 538.5L643.5 538.7L644.3 537.3L645.2 538.2L646.1 538.6L647.0 538.4L647.9 538.4L648.8 536.8L649.7 538.7L650.5 537.9L651.4 525.2L652.3 537.0L653.2 538.5L654.1 536.3L655.0 536.7L655.9 537.9L656.7 537.7L657.6 536.5L658.5 537.1L659.4 538.2L660.3 538.2L661.2 536.6L662.1 538.0L662.9 536.0L663.8 536.1L664.7 537.2L665.6 537.4L666.5 519.3L667.4 536.8L668.2 537.0L669.1 538.0L670.0 537.5L670.9 538.3L671.8 537.7L672.7 537.7L673.6 537.2L674.4 538.3L675.3 538.6L676.2 537.9L677.1 523.7L678.0 538.2L678.9 536.6L679.8 538.2L680.6 538.4L681.5 537.9L682.4 537.1L683.3 538.7L684.2 535.0L685.1 538.0L686.0 536.3L686.8 537.7L687.7 536.4L688.6 537.8L689.5 538.5L690.4 538.2L691.3 537.2L692.2 538.3L693.0 537.1L693.9 537.9L694.8 538.3L695.7 538.0L696.6 536.6L697.5 525.2L698.4 536.5L699.2 537.2L700.1 538.3L701.0 537.2L701.9 536.8L702.8 535.9L703.7 536.6L704.6 538.0L705.4 538.1L706.3 537.8L707.2 538.4L708.1 537.1L709.0 537.8L709.9 537.4L710.8 537.5L711.6 538.7L712.5 536.6L713.4 538.7L714.3 537.4L715.2 538.0L716.1 538.7L716.9 523.0L717.8 538.2L718.7 538.4L719.6 537.3L720.5 537.9L721.4 536.6L722.3 537.3L723.1 537.8L724.0 538.1L724.9 536.7L725.8 522.3L726.7 530.1L727.6 537.9L728.5 538.4L729.3 538.3L730.2 530.9L731.1 538.2L732.0 537.3L732.9 537.3L733.8 536.8L734.7 538.0L735.5 536.7L736.4 537.1L737.3 537.2L738.2 536.9L739.1 537.3L740.0 537.5L740.9 538.1L741.7 537.5L742.6 538.2L743.5 538.4L744.4 538.3L745.3 525.2L746.2 538.5L747.1 537.0L747.9 538.4L748.8 535.9L749.7 537.6L750.6 537.9L751.5 538.2L752.4 538.0L753.2 537.0L754.1 536.8L755.0 537.8L755.9 537.3L756.8 536.9L757.7 537.9L758.6 538.3L759.4 538.8L760.3 525.2L761.2 538.5L762.1 537.8L763.0 537.9L763.9 534.1L764.8 537.6L765.6 537.1L766.5 538.5L767.4 538.7L768.3 537.7L769.2 538.1L770.1 536.8L771.0 537.9L771.8 537.0L772.7 524.5L773.6 537.5L774.5 538.4L775.4 538.5L776.3 538.2L777.2 538.5L778.0 538.7L778.9 538.5L779.8 538.2L780.7 537.7L781.6 538.0L782.5 536.7L783.4 538.6L784.2 537.7L785.1 538.3L786.0 537.7L786.9 536.9L787.8 538.7L788.7 537.3L789.6 538.1L790.4 536.8L791.3 537.8L792.2 537.1L793.1 538.7L794.0 537.3L794.9 537.0L795.8 528.4L796.6 538.8L797.5 536.9L798.4 537.1L799.3 536.9L800.2 537.0L801.1 538.6L801.9 537.8L802.8 538.2L803.7 538.7L804.6 538.3L805.5 537.9L806.4 536.9L807.3 537.3L808.1 538.1L809.0 536.9L809.9 537.1L810.8 537.0L811.7 523.5L812.6 538.5L813.5 538.0L814.3 538.8L815.2 537.8L816.1 537.5L817.0 538.3L817.9 538.0L818.8 538.5L819.7 522.3L820.5 530.1L821.4 537.1L822.3 538.2L823.2 536.6L824.1 538.4L825.0 536.5L825.9 537.3L826.7 537.3L827.6 537.3L828.5 536.8L829.4 537.6L830.3 538.5L831.2 537.2L832.1 537.2L832.9 537.9L833.8 537.4L834.7 535.5L835.6 537.7L836.5 537.4L837.4 538.4L838.2 536.5L839.1 525.2L840.0 536.5L840.9 536.8L841.8 536.5L842.7 538.2L843.6 537.3L844.4 536.8L845.3 537.6L846.2 538.6L847.1 537.1L848.0 536.9L848.9 537.5L849.8 538.3L850.6 535.5L851.5 536.9L852.4 538.2L853.3 536.8L854.2 522.3L855.1 536.9L856.0 537.8L856.8 538.0L857.7 536.2L858.6 537.9L859.5 537.3L860.4 538.6L861.3 538.3L862.2 536.7L863.0 538.3L863.9 536.7L864.8 538.1L865.7 538.1L866.6 523.0L867.5 538.5L868.4 537.7L869.2 538.5L870.1 537.4L871.0 538.3L871.9 537.2L872.8 537.9L873.7 537.8L874.6 537.3L875.4 536.9L876.3 537.7L877.2 536.6L878.1 537.1L879.0 537.4L879.9 536.7L880.8 536.8L881.6 537.7L882.5 537.9L883.4 537.4L884.3 538.6L885.2 538.1L886.1 536.6L886.9 537.2L887.8 538.2L888.7 538.5L889.6 538.2L890.5 538.0L891.4 536.8L892.3 534.6L893.1 538.6L894.0 537.9L894.9 537.2L895.8 536.7L896.7 538.7L897.6 537.7L898.5 537.7L899.3 537.2L900.2 536.5L901.1 536.5L902.0 536.8L902.9 537.1L903.8 538.6L904.7 537.9L905.5 538.3L906.4 523.5L907.3 538.5L908.2 536.5L909.1 537.3L910.0 537.0L910.9 536.9L911.7 535.4L912.6 538.8L913.5 522.1L914.4 529.9L915.3 537.5L916.2 538.5L917.1 538.1L917.9 538.5L918.8 536.8L919.7 538.1L920.6 538.2L921.5 538.7L922.4 537.7L923.2 537.7L924.1 538.5L925.0 538.4L925.9 537.6L926.8 537.4L927.7 536.5L928.6 538.8L929.4 536.9L930.3 537.1L931.2 537.2L932.1 538.1L933.0 525.2L933.9 538.7L934.8 538.6L935.6 538.5L936.5 538.0L937.4 537.3L938.3 536.6L939.2 537.6L940.1 537.9L941.0 537.1L941.8 537.9L942.7 537.7L943.6 537.8L944.5 538.7L945.4 538.6L946.3 537.5L947.2 537.0L948.0 538.1L948.9 524.5L949.8 527.8L950.7 538.8L951.6 536.5L952.5 537.4L953.4 538.1L954.2 537.4L955.1 537.6L956.0 499.1L956.9 517.3L957.8 517.3L958.7 536.8L959.6 538.1L960.4 523.0L961.3 536.8L962.2 538.0L963.1 536.9L964.0 538.7L964.9 538.7L965.7 537.5L966.6 534.2L967.5 537.0L968.4 538.8L969.3 537.8L970.2 536.5L971.1 538.6L971.9 537.8L972.8 537.9L973.7 536.7L974.6 536.7L975.5 536.8L976.4 537.1L977.3 538.1L978.1 537.5L979.0 538.3L979.9 537.5L980.8 538.5L981.7 536.3L982.6 537.9L983.5 536.6L984.3 537.2L985.2 534.5L986.1 538.4L987.0 538.3L987.9 538.4L988.8 537.4L989.7 537.9L990.5 536.8L991.4 537.4L992.3 536.5L993.2 537.2L994.1 538.2L995.0 537.4L995.9 538.6L996.7 537.9L997.6 537.8L998.5 537.5L999.4 536.7L1000.3 523.5L1001.2 536.0L1002.1 534.5L1002.9 537.5L1003.8 538.0L1004.7 536.6L1005.6 534.3L1006.5 538.3L1007.4 522.3L1008.2 530.1L1009.1 537.4L1010.0 536.6L1010.9 537.9L1011.8 537.1L1012.7 536.8L1013.6 538.2L1014.4 538.7L1015.3 538.2L1016.2 538.2L1017.1 537.7L1018.0 538.1L1018.9 537.6L1019.8 538.4L1020.6 527.5L1021.5 537.5L1022.4 537.5L1023.3 536.6L1024.2 535.1L1025.1 537.9L1026.0 538.2L1026.8 537.9L1027.7 525.2L1028.6 537.5L1029.5 538.2L1030.4 538.5L1031.3 534.3L1032.2 538.6L1033.0 538.5L1033.9 538.1L1034.8 538.7L1035.7 536.8L1036.6 536.5L1037.5 536.8L1038.4 535.8L1039.2 538.4L1040.1 538.0L1041.0 538.3L1041.9 537.8L1042.8 538.6L1043.7 537.5L1044.6 537.5L1045.4 538.1L1046.3 537.1L1047.2 536.5L1048.1 536.6L1049.0 523.5L1049.9 537.4L1050.8 537.4L1051.6 534.9L1052.5 536.2L1053.4 536.8L1054.3 536.0L1055.2 537.2L1056.1 528.2L1056.9 529.0L1057.8 536.5L1058.7 537.8L1059.6 530.6L1060.5 537.4L1061.4 538.0L1062.3 537.7L1063.1 536.7L1064.0 538.4L1064.9 537.7L1065.8 538.0L1066.7 537.3L1067.6 537.6L1068.5 536.7L1069.3 538.2L1070.2 538.0L1071.1 537.2L1072.0 535.0L1072.9 538.2L1073.8 537.8L1074.7 537.9L1075.5 536.7L1076.4 537.9L1077.3 536.9L1078.2 538.0L1079.1 537.9L1080.0 537.4L1080.9 537.7L1081.7 538.8L1082.6 534.9L1083.5 538.5L1084.4 536.7L1085.3 536.6L1086.2 536.6L1087.1 537.1L1087.9 538.3L1088.8 537.2L1089.7 537.1L1090.6 537.7L1091.5 538.5L1092.4 536.0L1093.2 537.0L1094.1 538.4L1095.0 537.6L1095.9 537.5L1096.8 537.6L1097.7 538.6L1098.6 538.6L1099.4 537.0L1100.3 537.6L1101.2 522.3L1102.1 530.1L1103.0 536.5L1103.9 537.4L1104.8 537.7L1105.6 536.6L1106.5 538.7L1107.4 537.3L1108.3 538.4L1109.2 537.6L1110.1 536.9L1111.0 537.3L1111.8 537.4L1112.7 538.7L1113.6 537.3L1114.5 537.7L1115.4 538.0L1116.3 536.7L1117.2 537.8L1118.0 537.7L1118.9 536.6L1119.8 536.6L1120.7 536.7L1121.6 537.6L1122.5 538.1L1123.4 537.1L1124.2 537.4L1125.1 536.6L1126.0 538.6L1126.9 538.0L1127.8 537.6L1128.7 537.6L1129.6 538.8L1130.4 538.2L1131.3 537.3L1132.2 538.6L1133.1 537.7L1134.0 536.5L1134.9 535.1L1135.8 538.2L1136.6 536.9L1137.5 536.7L1138.4 537.8L1139.3 536.6L1140.2 537.7L1141.1 536.8L1141.9 538.0L1142.8 538.3L1143.7 536.9L1144.6 536.6L1145.5 536.9L1146.4 536.9L1147.3 538.4L1148.1 538.1L1149.0 523.0L1149.9 538.0L1150.8 537.4L1151.7 536.6L1152.6 538.6L1153.5 538.5L1154.3 536.7L1155.2 538.4L1156.1 537.0L1157.0 537.3L1157.9 534.2L1158.8 537.0L1159.7 536.7L1160.5 536.6L1161.4 537.6L1162.3 537.4L1163.2 536.9L1164.1 537.3L1165.0 537.2L1165.9 538.1L1166.7 538.4L1167.6 523.0L1168.5 530.4L1169.4 536.7L1170.3 536.6L1171.2 536.5L1172.1 538.0L1172.9 537.6L1173.8 538.7L1174.7 537.5L1175.6 537.0L1176.5 538.3L1177.4 538.2L1178.2 537.5L1179.1 537.6L1180.0 537.3L1180.9 537.8L1181.8 537.7L1182.7 538.5L1183.6 537.2L1184.4 537.5L1185.3 536.6L1186.2 538.2L1187.1 536.4L1188.0 538.3L1188.9 538.7L1189.8 537.5L1190.6 537.1L1191.5 538.0L1192.4 537.3L1193.3 537.7L1194.2 538.5L1195.1 522.3L1196.0 530.1L1196.8 537.2L1197.7 538.5L1198.6 537.4L1199.5 537.8L1200.4 537.2L1201.3 538.7L1202.2 536.9L1203.0 537.5L1203.9 534.6L1204.8 536.8L1205.7 537.4L1206.6 535.5L1207.5 538.3L1208.4 537.6L1209.2 537.9L1210.1 538.2L1211.0 537.1L1211.9 537.9L1212.8 537.7L1213.7 537.3L1214.6 538.1L1215.4 513.2L1216.3 536.7L1217.2 537.9L1218.1 518.3L1219.0 537.9L1219.9 537.1L1220.8 537.1L1221.6 537.3L1222.5 537.8L1223.4 538.3L1224.3 537.5L1225.2 538.0L1226.1 538.8L1226.9 537.0L1227.8 537.4L1228.7 537.9L1229.6 497.2L1230.5 516.2L1231.4 516.2L1232.3 537.9L1233.1 537.1L1234.0 537.0L1234.9 538.2L1235.8 537.5L1236.7 536.5L1237.6 537.0L1238.5 537.1L1239.3 538.1L1240.2 537.6L1241.1 538.4L1242.0 536.7L1242.9 523.0L1243.8 537.8L1244.7 537.4L1245.5 537.5L1246.4 537.5L1247.3 538.0L1248.2 538.6L1249.1 537.2L1250.0 536.8L1250.9 538.2L1251.7 536.3L1252.6 537.2L1253.5 538.1L1254.4 536.6L1255.3 538.1L1256.2 536.9L1257.1 538.2L1257.9 534.5L1258.8 536.8L1259.7 537.1L1260.6 538.0L1261.5 522.1L1262.4 538.1L1263.2 536.9L1264.1 537.4L1265.0 538.3L1265.9 537.3L1266.8 536.5L1267.7 537.8L1268.6 536.8L1269.4 537.2L1270.3 538.0L1271.2 538.3L1272.1 536.7L1273.0 537.9L1273.9 534.8L1274.8 538.6L1275.6 537.5L1276.5 537.4L1277.4 536.5L1278.3 536.4L1279.2 538.7L1280.1 538.4L1281.0 537.2L1281.8 538.0L1282.7 538.1L1283.6 538.0L1284.5 538.2L1285.4 537.2L1286.3 537.4L1287.2 538.5L1288.0 537.7L1288.9 538.1L1289.8 522.1L1290.7 529.9L1291.6 537.6L1292.5 537.9L1293.4 537.7L1294.2 537.5L1295.1 536.7L1296.0 538.7L1296.9 538.7L1297.8 537.3L1298.7 538.3L1299.6 536.8L1300.4 537.2L1301.3 537.7L1302.2 537.5L1303.1 536.5L1304.0 536.0L1304.9 536.5L1305.8 537.6L1306.6 536.8L1307.5 533.2L1308.4 538.8L1309.3 520.0L1310.2 538.5L1311.1 536.6L1311.9 537.0L1312.8 537.4L1313.7 537.7L1314.6 537.2L1315.5 537.7L1316.4 538.0L1317.3 536.6L1318.1 537.3L1319.0 538.6L1319.9 538.0L1320.8 535.4L1321.7 538.2L1322.6 537.1L1323.5 536.0L1324.3 494.1L1325.2 514.5L1326.1 514.5L1327.0 538.0L1327.9 536.8L1328.8 537.3L1329.7 534.7L1330.5 537.9L1331.4 538.2L1332.3 538.4L1333.2 536.5L1334.1 538.1L1335.0 536.6L1335.9 538.2L1336.7 523.0L1337.6 536.5L1338.5 537.3L1339.4 537.1L1340.3 538.7L1341.2 537.9L1342.1 535.4L1342.9 537.9L1343.8 538.4L1344.7 536.6L1345.6 537.6L1346.5 537.0L1347.4 538.2L1348.2 534.2L1349.1 538.7L1350.0 537.7L1350.9 537.3L1351.8 537.0L1352.7 538.7L1353.6 538.4L1354.4 535.8L1355.3 537.7L1356.2 536.8L1357.1 536.3L1358.0 538.1L1358.9 538.5L1359.8 537.3L1360.6 538.4L1361.5 537.9L1362.4 537.5L1363.3 537.9L1364.2 538.7L1365.1 538.3L1366.0 538.8L1366.8 537.4L1367.7 537.5L1368.6 538.5L1369.5 535.3L94.5 535.3L95.4 536.6L96.3 537.6L97.2 538.4L98.0 537.3L98.9 538.6L99.8 538.6L100.7 533.9L101.6 536.5L102.5 537.3L103.4 538.8L104.2 538.7L105.1 536.7L106.0 537.8L106.9 537.6L107.8 537.6L108.7 522.3L109.6 530.1L110.4 536.8L111.3 538.1L112.2 535.6L113.1 537.9L114.0 537.9L114.9 527.9L115.8 537.7L116.6 535.8L117.5 537.0L118.4 538.6L119.3 536.5L120.2 538.5L121.1 535.9L121.9 538.4L122.8 537.7L123.7 537.1L124.6 535.9L125.5 538.3L126.4 536.5L127.3 538.1L128.1 538.3L129.0 536.8L129.9 538.6L130.8 538.3L131.7 537.0L132.6 537.8L133.5 537.4L134.3 537.4L135.2 537.7L136.1 537.7L137.0 536.8L137.9 538.4L138.8 536.9L139.7 538.3L140.5 536.6L141.4 536.6L142.3 537.4L143.2 516.0L144.1 528.2L145.0 522.1L145.9 525.9M145.9 525.9L191.5 535.3L200.8 535.3" fill="none" stroke="#009E73" stroke-width="1.0" stroke-linejoin="round"/>
<path d="M200.8 535.1L201.6 531.8L202.5 531.9L203.4 535.4L204.3 535.5L205.2 533.2L206.1 535.0L206.9 532.0L207.8 531.7L208.7 531.0L209.6 533.4L210.5 534.7L211.4 532.6L212.3 535.1L213.1 534.3L214.0 533.6L214.9 535.1L215.8 533.4L216.7 534.6L217.6 534.0L218.5 532.3L219.3 530.8L220.2 533.5L221.1 534.3L222.0 535.5L222.9 533.9L223.8 532.4L224.7 535.1L225.5 533.3L226.4 525.2L227.3 530.3L228.2 533.3L229.1 533.4L230.0 532.3L230.9 531.6L231.7 533.0L232.6 535.3L233.5 532.5L234.4 531.5L235.3 534.8L236.2 533.4L237.1 531.2L237.9 533.0L238.8 533.6L239.7 535.4L240.6 531.4L241.5 525.2L242.4 531.6L243.2 533.4L244.1 534.4L245.0 535.4L245.9 533.6L246.8 533.7L247.7 533.2L248.6 531.5L249.4 534.0L250.3 535.5L251.2 532.6L252.1 533.9L253.0 532.3L253.9 535.1L254.8 533.3L255.6 530.4L256.5 531.4L257.4 533.9L258.3 531.7L259.2 534.7L260.1 534.6L261.0 532.1L261.8 504.2L262.7 520.1L263.6 520.1L264.5 535.2L265.4 532.5L266.3 534.6L267.2 532.8L268.0 530.2L268.9 533.1L269.8 534.6L270.7 532.9L271.6 534.9L272.5 534.4L273.4 532.7L274.2 532.2L275.1 535.3L276.0 534.2L276.9 532.0L277.8 530.8L278.7 532.7L279.6 530.9L280.4 533.3L281.3 533.4L282.2 530.8L283.1 533.3L284.0 532.1L284.9 531.8L285.8 534.1L286.6 532.5L287.5 535.4L288.4 534.8L289.3 533.4L290.2 532.3L291.1 533.6L291.9 534.8L292.8 532.6L293.7 533.0L294.6 531.3L295.5 534.8L296.4 530.5L297.3 533.6L298.1 533.4L299.0 533.7L299.9 533.5L300.8 534.0L301.7 533.0L302.6 535.2L303.5 534.9L304.3 534.4L305.2 532.1L306.1 533.7L307.0 531.0L307.9 533.1L308.8 534.6L309.7 533.7L310.5 534.9L311.4 532.2L312.3 534.4L313.2 535.2L314.1 526.6L315.0 533.7L315.9 534.4L316.7 535.2L317.6 533.9L318.5 532.8L319.4 534.9L320.3 533.0L321.2 534.1L322.1 533.9L322.9 532.4L323.8 532.4L324.7 534.5L325.6 533.0L326.5 531.9L327.4 532.0L328.2 534.1L329.1 531.8L330.0 533.0L330.9 533.7L331.8 532.0L332.7 533.2L333.6 534.5L334.4 533.7L335.3 534.3L336.2 531.6L337.1 532.2L338.0 534.4L338.9 531.8L339.8 534.4L340.6 533.9L341.5 533.6L342.4 533.9L343.3 533.2L344.2 532.1L345.1 530.4L346.0 533.8L346.8 533.8L347.7 532.0L348.6 533.7L349.5 531.0L350.4 531.7L351.3 534.6L352.2 533.9L353.0 535.0L353.9 534.2L354.8 533.8L355.7 533.7L356.6 535.2L357.5 532.9L358.4 530.3L359.2 534.7L360.1 533.8L361.0 533.2L361.9 535.0L362.8 534.2L363.7 535.0L364.6 532.7L365.4 533.6L366.3 532.8L367.2 532.8L368.1 532.3L369.0 534.0L369.9 533.3L370.8 535.2L371.6 534.3L372.5 532.1L373.4 534.0L374.3 533.4L375.2 534.3L376.1 535.2L376.9 534.1L377.8 534.0L378.7 534.8L379.6 534.5L380.5 533.6L381.4 534.5L382.3 532.2L383.1 533.4L384.0 533.4L384.9 534.2L385.8 534.3L386.7 531.2L387.6 533.2L388.5 535.1L389.3 534.0L390.2 533.9L391.1 531.0L392.0 535.4L392.9 535.3L393.8 534.1L394.7 535.1L395.5 535.0L396.4 531.7L397.3 534.0L398.2 533.6L399.1 531.0L400.0 535.2L400.9 517.2L401.7 527.2L402.6 535.4L403.5 534.5L404.4 532.5L405.3 534.7L406.2 534.6L407.1 534.0L407.9 533.5L408.8 532.2L409.7 533.4L410.6 534.4L411.5 531.1L412.4 531.7L413.2 534.0L414.1 532.6L415.0 531.3L415.9 532.1L416.8 534.3L417.7 531.3L418.6 533.7L419.4 534.3L420.3 534.0L421.2 533.4L422.1 530.4L423.0 533.4L423.9 533.4L424.8 534.3L425.6 535.0L426.5 531.3L427.4 531.3L428.3 533.4L429.2 531.3L430.1 534.4L431.0 533.7L431.8 535.1L432.7 532.7L433.6 535.3L434.5 531.7L435.4 532.0L436.3 533.5L437.2 535.1L438.0 530.5L438.9 533.3L439.8 533.7L440.7 531.6L441.6 533.0L442.5 533.4L443.4 532.6L444.2 534.8L445.1 534.4L446.0 535.4L446.9 535.0L447.8 532.8L448.7 533.1L449.6 535.2L450.4 534.8L451.3 530.2L452.2 533.2L453.1 534.4L454.0 531.5L454.9 534.0L455.8 534.7L456.6 533.2L457.5 533.7L458.4 535.0L459.3 533.7L460.2 533.9L461.1 534.9L461.9 534.4L462.8 534.5L463.7 533.7L464.6 531.1L465.5 533.6L466.4 534.9L467.3 532.6L468.1 534.2L469.0 534.7L469.9 535.2L470.8 534.2L471.7 531.4L472.6 535.2L473.5 533.9L474.3 535.5L475.2 535.1L476.1 534.3L477.0 531.5L477.9 532.3L478.8 535.1L479.7 531.6L480.5 532.8L481.4 535.5L482.3 534.2L483.2 534.8L484.1 533.2L485.0 532.3L485.9 535.5L486.7 534.3L487.6 534.6L488.5 535.2L489.4 534.8L490.3 532.9L491.2 531.7L492.1 535.2L492.9 530.7L493.8 533.4L494.7 534.1L495.6 530.6L496.5 532.0L497.4 534.0L498.2 534.5L499.1 535.4L500.0 532.3L500.9 534.0L501.8 531.9L502.7 530.9L503.6 534.2L504.4 532.3L505.3 533.9L506.2 533.3L507.1 535.5L508.0 533.9L508.9 532.3L509.8 535.0L510.6 535.0L511.5 535.4L512.4 533.4L513.3 535.2L514.2 533.6L515.1 533.4L516.0 531.9L516.8 534.4L517.7 534.5L518.6 535.2L519.5 533.5L520.4 533.7L521.3 533.4L522.2 534.8L523.0 534.6L523.9 533.4L524.8 535.5L525.7 534.1L526.6 533.8L527.5 534.9L528.4 535.1L529.2 534.7L530.1 533.4L531.0 534.3L531.9 534.0L532.8 531.8L533.7 532.2L534.6 533.3L535.4 532.6L536.3 533.3L537.2 532.9L538.1 532.7L539.0 530.1L539.9 534.3L540.8 531.1L541.6 532.4L542.5 534.6L543.4 532.9L544.3 533.2L545.2 512.0L546.1 524.4L546.9 533.8L547.8 534.3L548.7 532.9L549.6 533.1L550.5 532.8L551.4 535.0L552.3 534.5L553.1 534.2L554.0 534.5L554.9 533.3L555.8 534.5L556.7 533.8L557.6 535.4L558.5 533.4L559.3 532.9L560.2 534.3L561.1 533.5L562.0 533.5L562.9 535.2L563.8 530.6L564.7 534.6L565.5 535.4L566.4 531.8L567.3 532.1L568.2 531.9L569.1 534.0L570.0 533.4L570.9 532.1L571.7 533.6L572.6 533.1L573.5 532.2L574.4 535.3L575.3 534.1L576.2 534.0L577.1 533.9L577.9 526.5L578.8 533.2L579.7 533.2L580.6 532.6L581.5 533.9L582.4 530.5L583.2 531.3L584.1 532.2L585.0 530.2L585.9 530.1L586.8 534.5L587.7 532.7L588.6 534.5L589.4 532.6L590.3 534.8L591.2 533.6L592.1 533.5L593.0 534.2L593.9 533.6L594.8 533.4L595.6 535.3L596.5 533.9L597.4 533.7L598.3 530.0L599.2 534.2L600.1 534.5L601.0 534.5L601.8 534.9L602.7 534.0L603.6 533.8L604.5 534.6L605.4 531.4L606.3 534.8L607.2 527.2L608.0 534.1L608.9 532.2L609.8 535.2L610.7 534.0L611.6 534.8L612.5 534.4L613.4 531.4L614.2 533.5L615.1 533.1L616.0 534.5L616.9 533.2L617.8 533.7L618.7 534.5L619.6 535.0L620.4 532.1L621.3 535.4L622.2 529.9L623.1 532.1L624.0 532.8L624.9 533.0L625.8 533.9L626.6 534.0L627.5 531.7L628.4 530.4L629.3 535.5L630.2 533.5L631.1 533.4L631.9 533.7L632.8 532.2L633.7 531.0L634.6 527.5L635.5 532.9L636.4 534.0L637.3 533.9L638.1 533.9L639.0 530.1L639.9 534.0L640.8 534.2L641.7 535.2L642.6 534.3L643.5 535.1L644.3 531.9L645.2 535.4L646.1 531.9L647.0 532.3L647.9 533.6L648.8 533.9L649.7 530.3L650.5 535.1L651.4 534.1L652.3 531.7L653.2 535.1L654.1 533.0L655.0 531.9L655.9 533.3L656.7 533.8L657.6 533.5L658.5 533.5L659.4 534.5L660.3 534.6L661.2 532.8L662.1 532.1L662.9 533.4L663.8 531.1L664.7 532.9L665.6 534.1L666.5 534.2L667.4 531.9L668.2 532.9L669.1 533.5L670.0 530.8L670.9 534.4L671.8 535.3L672.7 535.5L673.6 533.4L674.4 530.5L675.3 531.8L676.2 534.0L677.1 533.3L678.0 534.8L678.9 531.1L679.8 533.5L680.6 534.7L681.5 530.9L682.4 533.8L683.3 531.4L684.2 530.8L685.1 534.1L686.0 534.0L686.8 534.2L687.7 532.3L688.6 533.0L689.5 533.7L690.4 535.4L691.3 534.2L692.2 533.7L693.0 533.6L693.9 533.5L694.8 533.2L695.7 535.1L696.6 533.3L697.5 534.0L698.4 535.3L699.2 533.4L700.1 534.5L701.0 534.1L701.9 534.2L702.8 535.4L703.7 533.3L704.6 533.5L705.4 535.1L706.3 531.1L707.2 531.8L708.1 533.8L709.0 533.4L709.9 533.5L710.8 534.4L711.6 535.0L712.5 530.1L713.4 535.0L714.3 532.3L715.2 535.1L716.1 533.5L716.9 533.7L717.8 533.6L718.7 534.8L719.6 530.8L720.5 531.1L721.4 534.5L722.3 533.5L723.1 533.8L724.0 535.2L724.9 534.6L725.8 531.3L726.7 533.9L727.6 531.0L728.5 530.3L729.3 529.9L730.2 535.4L731.1 531.1L732.0 535.5L732.9 535.4L733.8 532.4L734.7 533.3L735.5 534.6L736.4 534.1L737.3 531.2L738.2 533.0L739.1 530.5L740.0 535.2L740.9 534.2L741.7 532.4L742.6 533.9L743.5 531.3L744.4 535.2L745.3 534.5L746.2 532.7L747.1 530.9L747.9 535.1L748.8 532.1L749.7 533.5L750.6 535.4L751.5 535.2L752.4 533.3L753.2 530.4L754.1 532.8L755.0 533.8L755.9 533.9L756.8 534.8L757.7 535.1L758.6 531.6L759.4 530.9L760.3 534.0L761.2 530.8L762.1 535.0L763.0 535.2L763.9 533.6L764.8 533.9L765.6 534.3L766.5 533.3L767.4 534.6L768.3 530.7L769.2 530.7L770.1 533.3L771.0 532.8L771.8 532.1L772.7 531.8L773.6 531.9L774.5 533.8L775.4 533.4L776.3 530.5L777.2 530.3L778.0 531.8L778.9 533.4L779.8 532.1L780.7 533.9L781.6 535.5L782.5 531.8L783.4 535.4L784.2 535.5L785.1 532.8L786.0 531.2L786.9 534.1L787.8 531.8L788.7 533.8L789.6 530.6L790.4 533.7L791.3 533.2L792.2 531.7L793.1 533.2L794.0 535.3L794.9 534.1L795.8 533.6L796.6 534.7L797.5 535.0L798.4 533.4L799.3 534.7L800.2 534.1L801.1 533.6L801.9 531.4L802.8 533.5L803.7 532.4L804.6 534.7L805.5 534.6L806.4 531.2L807.3 532.9L808.1 532.0L809.0 535.2L809.9 534.0L810.8 534.3L811.7 535.0L812.6 532.1L813.5 534.5L814.3 531.9L815.2 534.6L816.1 533.7L817.0 534.6L817.9 530.7L818.8 530.8L819.7 533.3L820.5 534.2L821.4 534.5L822.3 535.1L823.2 533.8L824.1 530.2L825.0 532.1L825.9 534.3L826.7 533.1L827.6 534.2L828.5 534.3L829.4 530.8L830.3 530.3L831.2 530.9L832.1 532.1L832.9 533.0L833.8 531.9L834.7 533.4L835.6 533.8L836.5 533.9L837.4 533.2L838.2 534.1L839.1 534.3L840.0 534.7L840.9 533.8L841.8 531.2L842.7 534.5L843.6 532.7L844.4 533.7L845.3 534.2L846.2 534.4L847.1 535.2L848.0 530.8L848.9 527.3L849.8 533.0L850.6 534.8L851.5 530.8L852.4 534.7L853.3 533.4L854.2 532.0L855.1 534.3L856.0 532.8L856.8 532.1L857.7 534.1L858.6 534.4L859.5 533.3L860.4 533.7L861.3 533.9L862.2 535.5L863.0 533.6L863.9 532.0L864.8 533.5L865.7 530.5L866.6 530.6L867.5 531.6L868.4 533.4L869.2 531.4L870.1 535.4L871.0 533.2L871.9 534.1L872.8 534.5L873.7 531.2L874.6 534.7L875.4 535.3L876.3 534.3L877.2 533.9L878.1 533.2L879.0 534.6L879.9 531.6L880.8 530.6L881.6 535.3L882.5 532.6L883.4 532.6L884.3 534.6L885.2 533.3L886.1 533.8L886.9 535.4L887.8 533.2L888.7 533.5L889.6 532.0L890.5 533.2L891.4 533.4L892.3 533.4L893.1 534.9L894.0 535.4L894.9 532.8L895.8 533.9L896.7 535.2L897.6 535.0L898.5 533.5L899.3 534.5L900.2 535.3L901.1 523.5L902.0 530.7L902.9 533.0L903.8 535.2L904.7 533.5L905.5 531.1L906.4 533.7L907.3 530.5L908.2 531.5L909.1 535.1L910.0 533.5L910.9 531.9L911.7 534.0L912.6 532.3L913.5 534.8L914.4 532.6L915.3 531.9L916.2 534.0L917.1 521.2L917.9 529.4L918.8 533.4L919.7 535.0L920.6 531.7L921.5 534.3L922.4 535.4L923.2 534.4L924.1 533.8L925.0 531.1L925.9 534.9L926.8 534.3L927.7 534.6L928.6 532.3L929.4 535.4L930.3 534.2L931.2 532.1L932.1 532.1L933.0 534.8L933.9 531.6L934.8 535.5L935.6 533.4L936.5 533.7L937.4 533.3L938.3 534.1L939.2 533.8L940.1 534.8L941.0 534.9L941.8 535.4L942.7 530.0L943.6 534.5L944.5 534.8L945.4 534.7L946.3 533.4L947.2 533.7L948.0 533.4L948.9 534.0L949.8 533.1L950.7 531.3L951.6 533.7L952.5 531.1L953.4 532.6L954.2 533.8L955.1 532.9L956.0 531.3L956.9 535.4L957.8 535.3L958.7 534.3L959.6 532.6L960.4 533.3L961.3 534.7L962.2 531.2L963.1 533.5L964.0 533.1L964.9 535.0L965.7 534.8L966.6 533.4L967.5 532.7L968.4 531.4L969.3 533.8L970.2 534.8L971.1 533.7L971.9 533.4L972.8 534.8L973.7 534.5L974.6 533.2L975.5 532.2L976.4 534.2L977.3 533.7L978.1 534.6L979.0 534.8L979.9 535.3L980.8 533.2L981.7 534.7L982.6 532.4L983.5 535.0L984.3 534.2L985.2 532.7L986.1 531.7L987.0 531.5L987.9 532.2L988.8 533.3L989.7 534.1L990.5 534.0L991.4 534.3L992.3 533.7L993.2 532.6L994.1 534.4L995.0 532.0L995.9 534.5L996.7 534.0L997.6 531.8L998.5 533.3L999.4 531.4L1000.3 535.3L1001.2 530.7L1002.1 533.4L1002.9 533.5L1003.8 534.3L1004.7 532.3L1005.6 535.3L1006.5 530.7L1007.4 533.4L1008.2 534.1L1009.1 534.0L1010.0 532.8L1010.9 533.4L1011.8 535.3L1012.7 534.1L1013.6 533.2L1014.4 534.3L1015.3 519.3L1016.2 528.4L1017.1 533.3L1018.0 533.8L1018.9 532.5L1019.8 533.0L1020.6 534.8L1021.5 532.1L1022.4 533.7L1023.3 534.9L1024.2 530.0L1025.1 532.6L1026.0 532.8L1026.8 532.7L1027.7 534.4L1028.6 533.5L1029.5 534.0L1030.4 534.1L1031.3 534.1L1032.2 533.7L1033.0 533.3L1033.9 530.5L1034.8 535.0L1035.7 531.6L1036.6 531.7L1037.5 531.8L1038.4 533.5L1039.2 531.8L1040.1 533.7L1041.0 534.4L1041.9 532.5L1042.8 530.2L1043.7 533.1L1044.6 534.4L1045.4 535.0L1046.3 534.1L1047.2 533.5L1048.1 534.0L1049.0 531.7L1049.9 531.7L1050.8 534.5L1051.6 532.5L1052.5 530.6L1053.4 532.4L1054.3 530.7L1055.2 535.1L1056.1 535.5L1056.9 535.1L1057.8 534.5L1058.7 535.0L1059.6 533.7L1060.5 533.6L1061.4 534.6L1062.3 533.6L1063.1 530.7L1064.0 533.3L1064.9 534.6L1065.8 532.7L1066.7 534.0L1067.6 533.9L1068.5 529.8L1069.3 535.3L1070.2 534.9L1071.1 534.6L1072.0 534.2L1072.9 535.2L1073.8 534.8L1074.7 533.6L1075.5 532.8L1076.4 533.2L1077.3 535.1L1078.2 532.7L1079.1 534.1L1080.0 535.4L1080.9 531.9L1081.7 535.5L1082.6 534.8L1083.5 535.3L1084.4 529.6L1085.3 532.1L1086.2 534.5L1087.1 534.3L1087.9 534.0L1088.8 530.7L1089.7 533.5L1090.6 533.8L1091.5 535.2L1092.4 535.1L1093.2 534.1L1094.1 534.6L1095.0 532.4L1095.9 532.3L1096.8 533.4L1097.7 529.6L1098.6 531.4L1099.4 533.6L1100.3 531.4L1101.2 532.1L1102.1 534.0L1103.0 530.3L1103.9 534.8L1104.8 532.8L1105.6 530.6L1106.5 533.2L1107.4 533.6L1108.3 533.2L1109.2 532.3L1110.1 524.2L1111.0 533.3L1111.8 535.0L1112.7 534.9L1113.6 532.3L1114.5 530.6L1115.4 533.5L1116.3 533.8L1117.2 534.6L1118.0 532.5L1118.9 535.1L1119.8 524.2L1120.7 534.6L1121.6 532.6L1122.5 529.3L1123.4 533.6L1124.2 534.1L1125.1 535.4L1126.0 535.4L1126.9 529.5L1127.8 530.7L1128.7 535.1L1129.6 532.2L1130.4 532.4L1131.3 533.2L1132.2 533.6L1133.1 533.8L1134.0 535.2L1134.9 530.5L1135.8 530.9L1136.6 535.4L1137.5 531.5L1138.4 530.9L1139.3 530.8L1140.2 533.9L1141.1 532.3L1141.9 534.3L1142.8 532.2L1143.7 524.2L1144.6 529.3L1145.5 533.1L1146.4 532.9L1147.3 531.6L1148.1 534.8L1149.0 528.4L1149.9 534.2L1150.8 532.2L1151.7 524.2L1152.6 531.1L1153.5 531.2L1154.3 535.5L1155.2 533.4L1156.1 531.8L1157.0 534.7L1157.9 535.0L1158.8 533.3L1159.7 533.4L1160.5 531.1L1161.4 532.7L1162.3 534.2L1163.2 534.8L1164.1 524.2L1165.0 534.3L1165.9 535.3L1166.7 534.7L1167.6 530.6L1168.5 531.1L1169.4 534.3L1170.3 534.3L1171.2 526.5L1172.1 532.5L1172.9 534.7L1173.8 534.8L1174.7 534.0L1175.6 532.7L1176.5 531.8L1177.4 531.7L1178.2 535.4L1179.1 531.2L1180.0 531.3L1180.9 524.2L1181.8 535.4L1182.7 534.5L1183.6 531.6L1184.4 530.8L1185.3 533.9L1186.2 533.2L1187.1 533.4L1188.0 531.2L1188.9 533.4L1189.8 533.6L1190.6 528.6L1191.5 530.5L1192.4 531.7L1193.3 532.1L1194.2 535.1L1195.1 533.8L1196.0 534.8L1196.8 534.1L1197.7 529.8L1198.6 533.6L1199.5 533.4L1200.4 534.4L1201.3 532.8L1202.2 535.1L1203.0 530.4L1203.9 527.9L1204.8 532.3L1205.7 535.3L1206.6 531.2L1207.5 530.3L1208.4 530.4L1209.2 533.8L1210.1 535.4L1211.0 534.2L1211.9 534.3L1212.8 533.9L1213.7 528.6L1214.6 532.3L1215.4 532.2L1216.3 535.1L1217.2 532.3L1218.1 533.6L1219.0 535.2L1219.9 533.8L1220.8 533.5L1221.6 530.9L1222.5 530.3L1223.4 534.8L1224.3 535.0L1225.2 534.4L1226.1 533.9L1226.9 532.9L1227.8 533.5L1228.7 535.1L1229.6 534.1L1230.5 533.6L1231.4 535.2L1232.3 534.4L1233.1 533.6L1234.0 524.2L1234.9 534.8L1235.8 535.4L1236.7 534.7L1237.6 530.4L1238.5 534.8L1239.3 533.3L1240.2 532.1L1241.1 531.4L1242.0 525.4L1242.9 533.5L1243.8 530.6L1244.7 531.2L1245.5 533.6L1246.4 534.0L1247.3 535.3L1248.2 535.4L1249.1 524.2L1250.0 534.6L1250.9 535.4L1251.7 532.0L1252.6 533.5L1253.5 533.8L1254.4 534.3L1255.3 532.6L1256.2 533.3L1257.1 533.3L1257.9 524.2L1258.8 531.1L1259.7 531.1L1260.6 530.0L1261.5 535.1L1262.4 530.2L1263.2 533.9L1264.1 530.1L1265.0 529.2L1265.9 533.3L1266.8 533.6L1267.7 535.2L1268.6 534.4L1269.4 534.8L1270.3 524.2L1271.2 533.5L1272.1 534.2L1273.0 530.7L1273.9 533.8L1274.8 531.1L1275.6 535.4L1276.5 534.1L1277.4 532.5L1278.3 533.2L1279.2 524.2L1280.1 534.3L1281.0 533.3L1281.8 533.4L1282.7 533.5L1283.6 530.7L1284.5 535.4L1285.4 534.4L1286.3 532.9L1287.2 523.7L1288.0 530.8L1288.9 534.7L1289.8 533.6L1290.7 527.5L1291.6 530.9L1292.5 532.3L1293.4 534.4L1294.2 531.5L1295.1 533.4L1296.0 519.3L1296.9 534.2L1297.8 534.4L1298.7 534.2L1299.6 534.2L1300.4 528.6L1301.3 531.0L1302.2 533.4L1303.1 534.7L1304.0 524.2L1304.9 532.4L1305.8 531.6L1306.6 532.9L1307.5 529.6L1308.4 534.1L1309.3 535.0L1310.2 533.4L1311.1 531.1L1311.9 524.2L1312.8 531.1L1313.7 534.1L1314.6 532.6L1315.5 533.7L1316.4 532.1L1317.3 535.2L1318.1 532.2L1319.0 533.9L1319.9 535.0L1320.8 532.7L1321.7 529.9L1322.6 532.5L1323.5 533.2L1324.3 533.2L1325.2 534.4L1326.1 531.3L1327.0 531.0L1327.9 533.7L1328.8 533.8L1329.7 535.2L1330.5 534.1L1331.4 533.3L1332.3 532.1L1333.2 533.5L1334.1 515.0L1335.0 526.1L1335.9 534.2L1336.7 532.3L1337.6 534.6L1338.5 535.2L1339.4 534.3L1340.3 533.1L1341.2 534.6L1342.1 533.7L1342.9 533.9L1343.8 531.4L1344.7 535.1L1345.6 533.8L1346.5 533.8L1347.4 535.3L1348.2 533.5L1349.1 533.9L1350.0 533.9L1350.9 534.1L1351.8 534.2L1352.7 535.0L1353.6 531.5L1354.4 531.3L1355.3 533.3L1356.2 535.0L1357.1 528.2L1358.0 534.3L1358.9 532.9L1359.8 535.3L1360.6 533.4L1361.5 533.2L1362.4 534.6L1363.3 533.9L1364.2 533.6L1365.1 532.9L1366.0 531.8L1366.8 534.7L1367.7 533.4L1368.6 535.0L1369.5 533.4L94.5 533.4L95.4 531.9L96.3 530.7L97.2 535.0L98.0 534.8L98.9 533.3L99.8 533.3L100.7 535.4L101.6 532.7L102.5 533.5L103.4 533.3L104.2 533.2L105.1 533.9L106.0 534.9L106.9 534.8L107.8 533.3L108.7 535.2L109.6 532.9L110.4 530.9L111.3 534.3L112.2 534.5L113.1 531.4L114.0 531.7L114.9 534.2L115.8 533.9L116.6 535.3L117.5 534.7L118.4 534.6L119.3 533.3L120.2 521.2L121.1 529.4L121.9 532.8L122.8 532.7L123.7 533.6L124.6 535.0L125.5 535.4L126.4 533.6L127.3 534.4L128.1 521.2L129.0 529.4L129.9 533.8L130.8 533.8L131.7 534.7L132.6 533.6L133.5 531.1L134.3 532.6L135.2 533.9L136.1 528.2L137.0 533.2L137.9 534.9L138.8 533.9L139.7 532.6L140.5 533.8L141.4 531.6L142.3 532.0L143.2 531.5L144.1 533.8L145.0 533.3L145.9 535.3M145.9 533.4L200.8 533.4" fill="none" stroke="#56B4E9" stroke-width="1.0" stroke-linejoin="round"/>
</g>
<rect x="1103.0" y="481.0" width="13" height="13" fill="#F0E442" shape-rendering="crispEdges"/>
<rect x="1197.0" y="481.0" width="13" height="13" fill="#F0E442" shape-rendering="crispEdges"/>
<rect x="1290.0" y="481.0" width="13" height="13" fill="#F0E442" shape-rendering="crispEdges"/>
<path d="M93.9 459.5H99.1L101.5 461.9V467.1L99.1 469.5H93.9L91.5 467.1V461.9Z" fill="none" stroke="#0072B2" stroke-width="1.35" stroke-linejoin="round"/><path d="M90.0 464.5h1M102.0 464.5h1M96.5 458.0v1M96.5 470.0v1" fill="none" stroke="#0072B2" stroke-width="1" shape-rendering="crispEdges"/>
<path d="M140.9 459.5H146.1L148.5 461.9V467.1L146.1 469.5H140.9L138.5 467.1V461.9Z" fill="none" stroke="#0072B2" stroke-width="1.35" stroke-linejoin="round"/><path d="M137.0 464.5h1M149.0 464.5h1M143.5 458.0v1M143.5 470.0v1" fill="none" stroke="#0072B2" stroke-width="1" shape-rendering="crispEdges"/>
<path d="M199.9 461.5H205.1L207.5 463.9V469.1L205.1 471.5H199.9L197.5 469.1V463.9Z" fill="none" stroke="#0072B2" stroke-width="1.35" stroke-linejoin="round"/><path d="M196.0 466.5h1M208.0 466.5h1M202.5 460.0v1M202.5 472.0v1" fill="none" stroke="#0072B2" stroke-width="1" shape-rendering="crispEdges"/>
<path d="M246.9 460.5H252.1L254.5 462.9V468.1L252.1 470.5H246.9L244.5 468.1V462.9Z" fill="none" stroke="#0072B2" stroke-width="1.35" stroke-linejoin="round"/><path d="M243.0 465.5h1M255.0 465.5h1M249.5 459.0v1M249.5 471.0v1" fill="none" stroke="#0072B2" stroke-width="1" shape-rendering="crispEdges"/>
<path d="M252.9 462.5H258.1L260.5 464.9V470.1L258.1 472.5H252.9L250.5 470.1V464.9Z" fill="none" stroke="#0072B2" stroke-width="1.35" stroke-linejoin="round"/><path d="M249.0 467.5h1M261.0 467.5h1M255.5 461.0v1M255.5 473.0v1" fill="none" stroke="#0072B2" stroke-width="1" shape-rendering="crispEdges"/>
<path d="M299.9 460.5H305.1L307.5 462.9V468.1L305.1 470.5H299.9L297.5 468.1V462.9Z" fill="none" stroke="#0072B2" stroke-width="1.35" stroke-linejoin="round"/><path d="M296.0 465.5h1M308.0 465.5h1M302.5 459.0v1M302.5 471.0v1" fill="none" stroke="#0072B2" stroke-width="1" shape-rendering="crispEdges"/>
<path d="M305.9 460.5H311.1L313.5 462.9V468.1L311.1 470.5H305.9L303.5 468.1V462.9Z" fill="none" stroke="#0072B2" stroke-width="1.35" stroke-linejoin="round"/><path d="M302.0 465.5h1M314.0 465.5h1M308.5 459.0v1M308.5 471.0v1" fill="none" stroke="#0072B2" stroke-width="1" shape-rendering="crispEdges"/>
<path d="M352.9 459.5H358.1L360.5 461.9V467.1L358.1 469.5H352.9L350.5 467.1V461.9Z" fill="none" stroke="#0072B2" stroke-width="1.35" stroke-linejoin="round"/><path d="M349.0 464.5h1M361.0 464.5h1M355.5 458.0v1M355.5 470.0v1" fill="none" stroke="#0072B2" stroke-width="1" shape-rendering="crispEdges"/>
<path d="M358.9 459.5H364.1L366.5 461.9V467.1L364.1 469.5H358.9L356.5 467.1V461.9Z" fill="none" stroke="#0072B2" stroke-width="1.35" stroke-linejoin="round"/><path d="M355.0 464.5h1M367.0 464.5h1M361.5 458.0v1M361.5 470.0v1" fill="none" stroke="#0072B2" stroke-width="1" shape-rendering="crispEdges"/>
<path d="M405.9 457.5H411.1L413.5 459.9V465.1L411.1 467.5H405.9L403.5 465.1V459.9Z" fill="none" stroke="#0072B2" stroke-width="1.35" stroke-linejoin="round"/><path d="M402.0 462.5h1M414.0 462.5h1M408.5 456.0v1M408.5 468.0v1" fill="none" stroke="#0072B2" stroke-width="1" shape-rendering="crispEdges"/>
<path d="M412.9 458.5H418.1L420.5 460.9V466.1L418.1 468.5H412.9L410.5 466.1V460.9Z" fill="none" stroke="#0072B2" stroke-width="1.35" stroke-linejoin="round"/><path d="M409.0 463.5h1M421.0 463.5h1M415.5 457.0v1M415.5 469.0v1" fill="none" stroke="#0072B2" stroke-width="1" shape-rendering="crispEdges"/>
<path d="M458.9 461.5H464.1L466.5 463.9V469.1L464.1 471.5H458.9L456.5 469.1V463.9Z" fill="none" stroke="#0072B2" stroke-width="1.35" stroke-linejoin="round"/><path d="M455.0 466.5h1M467.0 466.5h1M461.5 460.0v1M461.5 472.0v1" fill="none" stroke="#0072B2" stroke-width="1" shape-rendering="crispEdges"/>
<path d="M465.9 460.5H471.1L473.5 462.9V468.1L471.1 470.5H465.9L463.5 468.1V462.9Z" fill="none" stroke="#0072B2" stroke-width="1.35" stroke-linejoin="round"/><path d="M462.0 465.5h1M474.0 465.5h1M468.5 459.0v1M468.5 471.0v1" fill="none" stroke="#0072B2" stroke-width="1" shape-rendering="crispEdges"/>
<path d="M512.9 461.5H518.1L520.5 463.9V469.1L518.1 471.5H512.9L510.5 469.1V463.9Z" fill="none" stroke="#0072B2" stroke-width="1.35" stroke-linejoin="round"/><path d="M509.0 466.5h1M521.0 466.5h1M515.5 460.0v1M515.5 472.0v1" fill="none" stroke="#0072B2" stroke-width="1" shape-rendering="crispEdges"/>
<path d="M518.9 459.5H524.1L526.5 461.9V467.1L524.1 469.5H518.9L516.5 467.1V461.9Z" fill="none" stroke="#0072B2" stroke-width="1.35" stroke-linejoin="round"/><path d="M515.0 464.5h1M527.0 464.5h1M521.5 458.0v1M521.5 470.0v1" fill="none" stroke="#0072B2" stroke-width="1" shape-rendering="crispEdges"/>
<path d="M565.9 457.5H571.1L573.5 459.9V465.1L571.1 467.5H565.9L563.5 465.1V459.9Z" fill="none" stroke="#0072B2" stroke-width="1.35" stroke-linejoin="round"/><path d="M562.0 462.5h1M574.0 462.5h1M568.5 456.0v1M568.5 468.0v1" fill="none" stroke="#0072B2" stroke-width="1" shape-rendering="crispEdges"/>
<path d="M571.9 299.5H577.1L579.5 301.9V307.1L577.1 309.5H571.9L569.5 307.1V301.9Z" fill="none" stroke="#0072B2" stroke-width="1.35" stroke-linejoin="round"/><path d="M568.0 304.5h1M580.0 304.5h1M574.5 298.0v1M574.5 310.0v1" fill="none" stroke="#0072B2" stroke-width="1" shape-rendering="crispEdges"/>
<path d="M618.9 458.5H624.1L626.5 460.9V466.1L624.1 468.5H618.9L616.5 466.1V460.9Z" fill="none" stroke="#0072B2" stroke-width="1.35" stroke-linejoin="round"/><path d="M615.0 463.5h1M627.0 463.5h1M621.5 457.0v1M621.5 469.0v1" fill="none" stroke="#0072B2" stroke-width="1" shape-rendering="crispEdges"/>
<path d="M624.9 460.5H630.1L632.5 462.9V468.1L630.1 470.5H624.9L622.5 468.1V462.9Z" fill="none" stroke="#0072B2" stroke-width="1.35" stroke-linejoin="round"/><path d="M621.0 465.5h1M633.0 465.5h1M627.5 459.0v1M627.5 471.0v1" fill="none" stroke="#0072B2" stroke-width="1" shape-rendering="crispEdges"/>
<path d="M671.9 459.5H677.1L679.5 461.9V467.1L677.1 469.5H671.9L669.5 467.1V461.9Z" fill="none" stroke="#0072B2" stroke-width="1.35" stroke-linejoin="round"/><path d="M668.0 464.5h1M680.0 464.5h1M674.5 458.0v1M674.5 470.0v1" fill="none" stroke="#0072B2" stroke-width="1" shape-rendering="crispEdges"/>
<path d="M677.9 461.5H683.1L685.5 463.9V469.1L683.1 471.5H677.9L675.5 469.1V463.9Z" fill="none" stroke="#0072B2" stroke-width="1.35" stroke-linejoin="round"/><path d="M674.0 466.5h1M686.0 466.5h1M680.5 460.0v1M680.5 472.0v1" fill="none" stroke="#0072B2" stroke-width="1" shape-rendering="crispEdges"/>
<path d="M724.9 460.5H730.1L732.5 462.9V468.1L730.1 470.5H724.9L722.5 468.1V462.9Z" fill="none" stroke="#0072B2" stroke-width="1.35" stroke-linejoin="round"/><path d="M721.0 465.5h1M733.0 465.5h1M727.5 459.0v1M727.5 471.0v1" fill="none" stroke="#0072B2" stroke-width="1" shape-rendering="crispEdges"/>
<path d="M730.9 459.5H736.1L738.5 461.9V467.1L736.1 469.5H730.9L728.5 467.1V461.9Z" fill="none" stroke="#0072B2" stroke-width="1.35" stroke-linejoin="round"/><path d="M727.0 464.5h1M739.0 464.5h1M733.5 458.0v1M733.5 470.0v1" fill="none" stroke="#0072B2" stroke-width="1" shape-rendering="crispEdges"/>
<path d="M777.9 459.5H783.1L785.5 461.9V467.1L783.1 469.5H777.9L775.5 467.1V461.9Z" fill="none" stroke="#0072B2" stroke-width="1.35" stroke-linejoin="round"/><path d="M774.0 464.5h1M786.0 464.5h1M780.5 458.0v1M780.5 470.0v1" fill="none" stroke="#0072B2" stroke-width="1" shape-rendering="crispEdges"/>
<path d="M783.9 458.5H789.1L791.5 460.9V466.1L789.1 468.5H783.9L781.5 466.1V460.9Z" fill="none" stroke="#0072B2" stroke-width="1.35" stroke-linejoin="round"/><path d="M780.0 463.5h1M792.0 463.5h1M786.5 457.0v1M786.5 469.0v1" fill="none" stroke="#0072B2" stroke-width="1" shape-rendering="crispEdges"/>
<path d="M830.9 459.5H836.1L838.5 461.9V467.1L836.1 469.5H830.9L828.5 467.1V461.9Z" fill="none" stroke="#0072B2" stroke-width="1.35" stroke-linejoin="round"/><path d="M827.0 464.5h1M839.0 464.5h1M833.5 458.0v1M833.5 470.0v1" fill="none" stroke="#0072B2" stroke-width="1" shape-rendering="crispEdges"/>
<path d="M837.9 460.5H843.1L845.5 462.9V468.1L843.1 470.5H837.9L835.5 468.1V462.9Z" fill="none" stroke="#0072B2" stroke-width="1.35" stroke-linejoin="round"/><path d="M834.0 465.5h1M846.0 465.5h1M840.5 459.0v1M840.5 471.0v1" fill="none" stroke="#0072B2" stroke-width="1" shape-rendering="crispEdges"/>
<path d="M883.9 456.5H889.1L891.5 458.9V464.1L889.1 466.5H883.9L881.5 464.1V458.9Z" fill="none" stroke="#0072B2" stroke-width="1.35" stroke-linejoin="round"/><path d="M880.0 461.5h1M892.0 461.5h1M886.5 455.0v1M886.5 467.0v1" fill="none" stroke="#0072B2" stroke-width="1" shape-rendering="crispEdges"/>
<path d="M890.9 456.5H896.1L898.5 458.9V464.1L896.1 466.5H890.9L888.5 464.1V458.9Z" fill="none" stroke="#0072B2" stroke-width="1.35" stroke-linejoin="round"/><path d="M887.0 461.5h1M899.0 461.5h1M893.5 455.0v1M893.5 467.0v1" fill="none" stroke="#0072B2" stroke-width="1" shape-rendering="crispEdges"/>
<path d="M937.9 456.5H943.1L945.5 458.9V464.1L943.1 466.5H937.9L935.5 464.1V458.9Z" fill="none" stroke="#0072B2" stroke-width="1.35" stroke-linejoin="round"/><path d="M934.0 461.5h1M946.0 461.5h1M940.5 455.0v1M940.5 467.0v1" fill="none" stroke="#0072B2" stroke-width="1" shape-rendering="crispEdges"/>
<path d="M943.9 459.5H949.1L951.5 461.9V467.1L949.1 469.5H943.9L941.5 467.1V461.9Z" fill="none" stroke="#0072B2" stroke-width="1.35" stroke-linejoin="round"/><path d="M940.0 464.5h1M952.0 464.5h1M946.5 458.0v1M946.5 470.0v1" fill="none" stroke="#0072B2" stroke-width="1" shape-rendering="crispEdges"/>
<path d="M990.9 460.5H996.1L998.5 462.9V468.1L996.1 470.5H990.9L988.5 468.1V462.9Z" fill="none" stroke="#0072B2" stroke-width="1.35" stroke-linejoin="round"/><path d="M987.0 465.5h1M999.0 465.5h1M993.5 459.0v1M993.5 471.0v1" fill="none" stroke="#0072B2" stroke-width="1" shape-rendering="crispEdges"/>
<path d="M996.9 460.5H1002.1L1004.5 462.9V468.1L1002.1 470.5H996.9L994.5 468.1V462.9Z" fill="none" stroke="#0072B2" stroke-width="1.35" stroke-linejoin="round"/><path d="M993.0 465.5h1M1005.0 465.5h1M999.5 459.0v1M999.5 471.0v1" fill="none" stroke="#0072B2" stroke-width="1" shape-rendering="crispEdges"/>
<path d="M1043.9 460.5H1049.1L1051.5 462.9V468.1L1049.1 470.5H1043.9L1041.5 468.1V462.9Z" fill="none" stroke="#0072B2" stroke-width="1.35" stroke-linejoin="round"/><path d="M1040.0 465.5h1M1052.0 465.5h1M1046.5 459.0v1M1046.5 471.0v1" fill="none" stroke="#0072B2" stroke-width="1" shape-rendering="crispEdges"/>
<path d="M1049.9 460.5H1055.1L1057.5 462.9V468.1L1055.1 470.5H1049.9L1047.5 468.1V462.9Z" fill="none" stroke="#0072B2" stroke-width="1.35" stroke-linejoin="round"/><path d="M1046.0 465.5h1M1058.0 465.5h1M1052.5 459.0v1M1052.5 471.0v1" fill="none" stroke="#0072B2" stroke-width="1" shape-rendering="crispEdges"/>
<path d="M1096.9 458.5H1102.1L1104.5 460.9V466.1L1102.1 468.5H1096.9L1094.5 466.1V460.9Z" fill="none" stroke="#0072B2" stroke-width="1.35" stroke-linejoin="round"/><path d="M1093.0 463.5h1M1105.0 463.5h1M1099.5 457.0v1M1099.5 469.0v1" fill="none" stroke="#0072B2" stroke-width="1" shape-rendering="crispEdges"/>
<path d="M1102.9 454.5H1108.1L1110.5 456.9V462.1L1108.1 464.5H1102.9L1100.5 462.1V456.9Z" fill="none" stroke="#0072B2" stroke-width="1.35" stroke-linejoin="round"/><path d="M1099.0 459.5h1M1111.0 459.5h1M1105.5 453.0v1M1105.5 465.0v1" fill="none" stroke="#0072B2" stroke-width="1" shape-rendering="crispEdges"/>
<path d="M1149.9 299.5H1155.1L1157.5 301.9V307.1L1155.1 309.5H1149.9L1147.5 307.1V301.9Z" fill="none" stroke="#0072B2" stroke-width="1.35" stroke-linejoin="round"/><path d="M1146.0 304.5h1M1158.0 304.5h1M1152.5 298.0v1M1152.5 310.0v1" fill="none" stroke="#0072B2" stroke-width="1" shape-rendering="crispEdges"/>
<path d="M1155.9 299.5H1161.1L1163.5 301.9V307.1L1161.1 309.5H1155.9L1153.5 307.1V301.9Z" fill="none" stroke="#0072B2" stroke-width="1.35" stroke-linejoin="round"/><path d="M1152.0 304.5h1M1164.0 304.5h1M1158.5 298.0v1M1158.5 310.0v1" fill="none" stroke="#0072B2" stroke-width="1" shape-rendering="crispEdges"/>
<path d="M1202.9 441.5H1208.1L1210.5 443.9V449.1L1208.1 451.5H1202.9L1200.5 449.1V443.9Z" fill="none" stroke="#0072B2" stroke-width="1.35" stroke-linejoin="round"/><path d="M1199.0 446.5h1M1211.0 446.5h1M1205.5 440.0v1M1205.5 452.0v1" fill="none" stroke="#0072B2" stroke-width="1" shape-rendering="crispEdges"/>
<path d="M1208.9 438.5H1214.1L1216.5 440.9V446.1L1214.1 448.5H1208.9L1206.5 446.1V440.9Z" fill="none" stroke="#0072B2" stroke-width="1.35" stroke-linejoin="round"/><path d="M1205.0 443.5h1M1217.0 443.5h1M1211.5 437.0v1M1211.5 449.0v1" fill="none" stroke="#0072B2" stroke-width="1" shape-rendering="crispEdges"/>
<path d="M1255.9 457.5H1261.1L1263.5 459.9V465.1L1261.1 467.5H1255.9L1253.5 465.1V459.9Z" fill="none" stroke="#0072B2" stroke-width="1.35" stroke-linejoin="round"/><path d="M1252.0 462.5h1M1264.0 462.5h1M1258.5 456.0v1M1258.5 468.0v1" fill="none" stroke="#0072B2" stroke-width="1" shape-rendering="crispEdges"/>
<path d="M1262.9 433.5H1268.1L1270.5 435.9V441.1L1268.1 443.5H1262.9L1260.5 441.1V435.9Z" fill="none" stroke="#0072B2" stroke-width="1.35" stroke-linejoin="round"/><path d="M1259.0 438.5h1M1271.0 438.5h1M1265.5 432.0v1M1265.5 444.0v1" fill="none" stroke="#0072B2" stroke-width="1" shape-rendering="crispEdges"/>
<path d="M1308.9 451.5H1314.1L1316.5 453.9V459.1L1314.1 461.5H1308.9L1306.5 459.1V453.9Z" fill="none" stroke="#0072B2" stroke-width="1.35" stroke-linejoin="round"/><path d="M1305.0 456.5h1M1317.0 456.5h1M1311.5 450.0v1M1311.5 462.0v1" fill="none" stroke="#0072B2" stroke-width="1" shape-rendering="crispEdges"/>
<path d="M1315.9 444.5H1321.1L1323.5 446.9V452.1L1321.1 454.5H1315.9L1313.5 452.1V446.9Z" fill="none" stroke="#0072B2" stroke-width="1.35" stroke-linejoin="round"/><path d="M1312.0 449.5h1M1324.0 449.5h1M1318.5 443.0v1M1318.5 455.0v1" fill="none" stroke="#0072B2" stroke-width="1" shape-rendering="crispEdges"/>
<path d="M1362.9 459.5H1368.1L1370.5 461.9V467.1L1368.1 469.5H1362.9L1360.5 467.1V461.9Z" fill="none" stroke="#0072B2" stroke-width="1.35" stroke-linejoin="round"/><path d="M1359.0 464.5h1M1371.0 464.5h1M1365.5 458.0v1M1365.5 470.0v1" fill="none" stroke="#0072B2" stroke-width="1" shape-rendering="crispEdges"/>
<path d="M93.9 531.5H99.1L101.5 533.9V539.1L99.1 541.5H93.9L91.5 539.1V533.9Z" fill="#E51E10" stroke="#E51E10" stroke-width="1.35" stroke-linejoin="round"/><path d="M90.0 536.5h1M102.0 536.5h1M96.5 530.0v1M96.5 542.0v1" fill="none" stroke="#E51E10" stroke-width="1" shape-rendering="crispEdges"/>
<path d="M140.9 531.5H146.1L148.5 533.9V539.1L146.1 541.5H140.9L138.5 539.1V533.9Z" fill="#E51E10" stroke="#E51E10" stroke-width="1.35" stroke-linejoin="round"/><path d="M137.0 536.5h1M149.0 536.5h1M143.5 530.0v1M143.5 542.0v1" fill="none" stroke="#E51E10" stroke-width="1" shape-rendering="crispEdges"/>
<path d="M199.9 531.5H205.1L207.5 533.9V539.1L205.1 541.5H199.9L197.5 539.1V533.9Z" fill="#E51E10" stroke="#E51E10" stroke-width="1.35" stroke-linejoin="round"/><path d="M196.0 536.5h1M208.0 536.5h1M202.5 530.0v1M202.5 542.0v1" fill="none" stroke="#E51E10" stroke-width="1" shape-rendering="crispEdges"/>
<path d="M246.9 531.5H252.1L254.5 533.9V539.1L252.1 541.5H246.9L244.5 539.1V533.9Z" fill="#E51E10" stroke="#E51E10" stroke-width="1.35" stroke-linejoin="round"/><path d="M243.0 536.5h1M255.0 536.5h1M249.5 530.0v1M249.5 542.0v1" fill="none" stroke="#E51E10" stroke-width="1" shape-rendering="crispEdges"/>
<path d="M252.9 531.5H258.1L260.5 533.9V539.1L258.1 541.5H252.9L250.5 539.1V533.9Z" fill="#E51E10" stroke="#E51E10" stroke-width="1.35" stroke-linejoin="round"/><path d="M249.0 536.5h1M261.0 536.5h1M255.5 530.0v1M255.5 542.0v1" fill="none" stroke="#E51E10" stroke-width="1" shape-rendering="crispEdges"/>
<path d="M299.9 531.5H305.1L307.5 533.9V539.1L305.1 541.5H299.9L297.5 539.1V533.9Z" fill="#E51E10" stroke="#E51E10" stroke-width="1.35" stroke-linejoin="round"/><path d="M296.0 536.5h1M308.0 536.5h1M302.5 530.0v1M302.5 542.0v1" fill="none" stroke="#E51E10" stroke-width="1" shape-rendering="crispEdges"/>
<path d="M305.9 531.5H311.1L313.5 533.9V539.1L311.1 541.5H305.9L303.5 539.1V533.9Z" fill="#E51E10" stroke="#E51E10" stroke-width="1.35" stroke-linejoin="round"/><path d="M302.0 536.5h1M314.0 536.5h1M308.5 530.0v1M308.5 542.0v1" fill="none" stroke="#E51E10" stroke-width="1" shape-rendering="crispEdges"/>
<path d="M352.9 531.5H358.1L360.5 533.9V539.1L358.1 541.5H352.9L350.5 539.1V533.9Z" fill="#E51E10" stroke="#E51E10" stroke-width="1.35" stroke-linejoin="round"/><path d="M349.0 536.5h1M361.0 536.5h1M355.5 530.0v1M355.5 542.0v1" fill="none" stroke="#E51E10" stroke-width="1" shape-rendering="crispEdges"/>
<path d="M358.9 531.5H364.1L366.5 533.9V539.1L364.1 541.5H358.9L356.5 539.1V533.9Z" fill="#E51E10" stroke="#E51E10" stroke-width="1.35" stroke-linejoin="round"/><path d="M355.0 536.5h1M367.0 536.5h1M361.5 530.0v1M361.5 542.0v1" fill="none" stroke="#E51E10" stroke-width="1" shape-rendering="crispEdges"/>
<path d="M405.9 531.5H411.1L413.5 533.9V539.1L411.1 541.5H405.9L403.5 539.1V533.9Z" fill="#E51E10" stroke="#E51E10" stroke-width="1.35" stroke-linejoin="round"/><path d="M402.0 536.5h1M414.0 536.5h1M408.5 530.0v1M408.5 542.0v1" fill="none" stroke="#E51E10" stroke-width="1" shape-rendering="crispEdges"/>
<path d="M412.9 531.5H418.1L420.5 533.9V539.1L418.1 541.5H412.9L410.5 539.1V533.9Z" fill="#E51E10" stroke="#E51E10" stroke-width="1.35" stroke-linejoin="round"/><path d="M409.0 536.5h1M421.0 536.5h1M415.5 530.0v1M415.5 542.0v1" fill="none" stroke="#E51E10" stroke-width="1" shape-rendering="crispEdges"/>
<path d="M458.9 531.5H464.1L466.5 533.9V539.1L464.1 541.5H458.9L456.5 539.1V533.9Z" fill="#E51E10" stroke="#E51E10" stroke-width="1.35" stroke-linejoin="round"/><path d="M455.0 536.5h1M467.0 536.5h1M461.5 530.0v1M461.5 542.0v1" fill="none" stroke="#E51E10" stroke-width="1" shape-rendering="crispEdges"/>
<path d="M465.9 531.5H471.1L473.5 533.9V539.1L471.1 541.5H465.9L463.5 539.1V533.9Z" fill="#E51E10" stroke="#E51E10" stroke-width="1.35" stroke-linejoin="round"/><path d="M462.0 536.5h1M474.0 536.5h1M468.5 530.0v1M468.5 542.0v1" fill="none" stroke="#E51E10" stroke-width="1" shape-rendering="crispEdges"/>
<path d="M512.9 531.5H518.1L520.5 533.9V539.1L518.1 541.5H512.9L510.5 539.1V533.9Z" fill="#E51E10" stroke="#E51E10" stroke-width="1.35" stroke-linejoin="round"/><path d="M509.0 536.5h1M521.0 536.5h1M515.5 530.0v1M515.5 542.0v1" fill="none" stroke="#E51E10" stroke-width="1" shape-rendering="crispEdges"/>
<path d="M518.9 531.5H524.1L526.5 533.9V539.1L524.1 541.5H518.9L516.5 539.1V533.9Z" fill="#E51E10" stroke="#E51E10" stroke-width="1.35" stroke-linejoin="round"/><path d="M515.0 536.5h1M527.0 536.5h1M521.5 530.0v1M521.5 542.0v1" fill="none" stroke="#E51E10" stroke-width="1" shape-rendering="crispEdges"/>
<path d="M565.9 531.5H571.1L573.5 533.9V539.1L571.1 541.5H565.9L563.5 539.1V533.9Z" fill="#E51E10" stroke="#E51E10" stroke-width="1.35" stroke-linejoin="round"/><path d="M562.0 536.5h1M574.0 536.5h1M568.5 530.0v1M568.5 542.0v1" fill="none" stroke="#E51E10" stroke-width="1" shape-rendering="crispEdges"/>
<path d="M618.9 531.5H624.1L626.5 533.9V539.1L624.1 541.5H618.9L616.5 539.1V533.9Z" fill="#E51E10" stroke="#E51E10" stroke-width="1.35" stroke-linejoin="round"/><path d="M615.0 536.5h1M627.0 536.5h1M621.5 530.0v1M621.5 542.0v1" fill="none" stroke="#E51E10" stroke-width="1" shape-rendering="crispEdges"/>
<path d="M624.9 531.5H630.1L632.5 533.9V539.1L630.1 541.5H624.9L622.5 539.1V533.9Z" fill="#E51E10" stroke="#E51E10" stroke-width="1.35" stroke-linejoin="round"/><path d="M621.0 536.5h1M633.0 536.5h1M627.5 530.0v1M627.5 542.0v1" fill="none" stroke="#E51E10" stroke-width="1" shape-rendering="crispEdges"/>
<path d="M671.9 531.5H677.1L679.5 533.9V539.1L677.1 541.5H671.9L669.5 539.1V533.9Z" fill="#E51E10" stroke="#E51E10" stroke-width="1.35" stroke-linejoin="round"/><path d="M668.0 536.5h1M680.0 536.5h1M674.5 530.0v1M674.5 542.0v1" fill="none" stroke="#E51E10" stroke-width="1" shape-rendering="crispEdges"/>
<path d="M677.9 531.5H683.1L685.5 533.9V539.1L683.1 541.5H677.9L675.5 539.1V533.9Z" fill="#E51E10" stroke="#E51E10" stroke-width="1.35" stroke-linejoin="round"/><path d="M674.0 536.5h1M686.0 536.5h1M680.5 530.0v1M680.5 542.0v1" fill="none" stroke="#E51E10" stroke-width="1" shape-rendering="crispEdges"/>
<path d="M724.9 531.5H730.1L732.5 533.9V539.1L730.1 541.5H724.9L722.5 539.1V533.9Z" fill="#E51E10" stroke="#E51E10" stroke-width="1.35" stroke-linejoin="round"/><path d="M721.0 536.5h1M733.0 536.5h1M727.5 530.0v1M727.5 542.0v1" fill="none" stroke="#E51E10" stroke-width="1" shape-rendering="crispEdges"/>
<path d="M730.9 531.5H736.1L738.5 533.9V539.1L736.1 541.5H730.9L728.5 539.1V533.9Z" fill="#E51E10" stroke="#E51E10" stroke-width="1.35" stroke-linejoin="round"/><path d="M727.0 536.5h1M739.0 536.5h1M733.5 530.0v1M733.5 542.0v1" fill="none" stroke="#E51E10" stroke-width="1" shape-rendering="crispEdges"/>
<path d="M777.9 531.5H783.1L785.5 533.9V539.1L783.1 541.5H777.9L775.5 539.1V533.9Z" fill="#E51E10" stroke="#E51E10" stroke-width="1.35" stroke-linejoin="round"/><path d="M774.0 536.5h1M786.0 536.5h1M780.5 530.0v1M780.5 542.0v1" fill="none" stroke="#E51E10" stroke-width="1" shape-rendering="crispEdges"/>
<path d="M783.9 531.5H789.1L791.5 533.9V539.1L789.1 541.5H783.9L781.5 539.1V533.9Z" fill="#E51E10" stroke="#E51E10" stroke-width="1.35" stroke-linejoin="round"/><path d="M780.0 536.5h1M792.0 536.5h1M786.5 530.0v1M786.5 542.0v1" fill="none" stroke="#E51E10" stroke-width="1" shape-rendering="crispEdges"/>
<path d="M830.9 531.5H836.1L838.5 533.9V539.1L836.1 541.5H830.9L828.5 539.1V533.9Z" fill="#E51E10" stroke="#E51E10" stroke-width="1.35" stroke-linejoin="round"/><path d="M827.0 536.5h1M839.0 536.5h1M833.5 530.0v1M833.5 542.0v1" fill="none" stroke="#E51E10" stroke-width="1" shape-rendering="crispEdges"/>
<path d="M837.9 531.5H843.1L845.5 533.9V539.1L843.1 541.5H837.9L835.5 539.1V533.9Z" fill="#E51E10" stroke="#E51E10" stroke-width="1.35" stroke-linejoin="round"/><path d="M834.0 536.5h1M846.0 536.5h1M840.5 530.0v1M840.5 542.0v1" fill="none" stroke="#E51E10" stroke-width="1" shape-rendering="crispEdges"/>
<path d="M883.9 531.5H889.1L891.5 533.9V539.1L889.1 541.5H883.9L881.5 539.1V533.9Z" fill="#E51E10" stroke="#E51E10" stroke-width="1.35" stroke-linejoin="round"/><path d="M880.0 536.5h1M892.0 536.5h1M886.5 530.0v1M886.5 542.0v1" fill="none" stroke="#E51E10" stroke-width="1" shape-rendering="crispEdges"/>
<path d="M890.9 531.5H896.1L898.5 533.9V539.1L896.1 541.5H890.9L888.5 539.1V533.9Z" fill="#E51E10" stroke="#E51E10" stroke-width="1.35" stroke-linejoin="round"/><path d="M887.0 536.5h1M899.0 536.5h1M893.5 530.0v1M893.5 542.0v1" fill="none" stroke="#E51E10" stroke-width="1" shape-rendering="crispEdges"/>
<path d="M937.9 531.5H943.1L945.5 533.9V539.1L943.1 541.5H937.9L935.5 539.1V533.9Z" fill="#E51E10" stroke="#E51E10" stroke-width="1.35" stroke-linejoin="round"/><path d="M934.0 536.5h1M946.0 536.5h1M940.5 530.0v1M940.5 542.0v1" fill="none" stroke="#E51E10" stroke-width="1" shape-rendering="crispEdges"/>
<path d="M943.9 531.5H949.1L951.5 533.9V539.1L949.1 541.5H943.9L941.5 539.1V533.9Z" fill="#E51E10" stroke="#E51E10" stroke-width="1.35" stroke-linejoin="round"/><path d="M940.0 536.5h1M952.0 536.5h1M946.5 530.0v1M946.5 542.0v1" fill="none" stroke="#E51E10" stroke-width="1" shape-rendering="crispEdges"/>
<path d="M990.9 531.5H996.1L998.5 533.9V539.1L996.1 541.5H990.9L988.5 539.1V533.9Z" fill="#E51E10" stroke="#E51E10" stroke-width="1.35" stroke-linejoin="round"/><path d="M987.0 536.5h1M999.0 536.5h1M993.5 530.0v1M993.5 542.0v1" fill="none" stroke="#E51E10" stroke-width="1" shape-rendering="crispEdges"/>
<path d="M996.9 531.5H1002.1L1004.5 533.9V539.1L1002.1 541.5H996.9L994.5 539.1V533.9Z" fill="#E51E10" stroke="#E51E10" stroke-width="1.35" stroke-linejoin="round"/><path d="M993.0 536.5h1M1005.0 536.5h1M999.5 530.0v1M999.5 542.0v1" fill="none" stroke="#E51E10" stroke-width="1" shape-rendering="crispEdges"/>
<path d="M1043.9 531.5H1049.1L1051.5 533.9V539.1L1049.1 541.5H1043.9L1041.5 539.1V533.9Z" fill="#E51E10" stroke="#E51E10" stroke-width="1.35" stroke-linejoin="round"/><path d="M1040.0 536.5h1M1052.0 536.5h1M1046.5 530.0v1M1046.5 542.0v1" fill="none" stroke="#E51E10" stroke-width="1" shape-rendering="crispEdges"/>
<path d="M1049.9 531.5H1055.1L1057.5 533.9V539.1L1055.1 541.5H1049.9L1047.5 539.1V533.9Z" fill="#E51E10" stroke="#E51E10" stroke-width="1.35" stroke-linejoin="round"/><path d="M1046.0 536.5h1M1058.0 536.5h1M1052.5 530.0v1M1052.5 542.0v1" fill="none" stroke="#E51E10" stroke-width="1" shape-rendering="crispEdges"/>
<path d="M1096.9 531.5H1102.1L1104.5 533.9V539.1L1102.1 541.5H1096.9L1094.5 539.1V533.9Z" fill="#E51E10" stroke="#E51E10" stroke-width="1.35" stroke-linejoin="round"/><path d="M1093.0 536.5h1M1105.0 536.5h1M1099.5 530.0v1M1099.5 542.0v1" fill="none" stroke="#E51E10" stroke-width="1" shape-rendering="crispEdges"/>
<path d="M1102.9 531.5H1108.1L1110.5 533.9V539.1L1108.1 541.5H1102.9L1100.5 539.1V533.9Z" fill="#E51E10" stroke="#E51E10" stroke-width="1.35" stroke-linejoin="round"/><path d="M1099.0 536.5h1M1111.0 536.5h1M1105.5 530.0v1M1105.5 542.0v1" fill="none" stroke="#E51E10" stroke-width="1" shape-rendering="crispEdges"/>
<path d="M1149.9 531.5H1155.1L1157.5 533.9V539.1L1155.1 541.5H1149.9L1147.5 539.1V533.9Z" fill="#E51E10" stroke="#E51E10" stroke-width="1.35" stroke-linejoin="round"/><path d="M1146.0 536.5h1M1158.0 536.5h1M1152.5 530.0v1M1152.5 542.0v1" fill="none" stroke="#E51E10" stroke-width="1" shape-rendering="crispEdges"/>
<path d="M1155.9 531.5H1161.1L1163.5 533.9V539.1L1161.1 541.5H1155.9L1153.5 539.1V533.9Z" fill="#E51E10" stroke="#E51E10" stroke-width="1.35" stroke-linejoin="round"/><path d="M1152.0 536.5h1M1164.0 536.5h1M1158.5 530.0v1M1158.5 542.0v1" fill="none" stroke="#E51E10" stroke-width="1" shape-rendering="crispEdges"/>
<path d="M1202.9 531.5H1208.1L1210.5 533.9V539.1L1208.1 541.5H1202.9L1200.5 539.1V533.9Z" fill="#E51E10" stroke="#E51E10" stroke-width="1.35" stroke-linejoin="round"/><path d="M1199.0 536.5h1M1211.0 536.5h1M1205.5 530.0v1M1205.5 542.0v1" fill="none" stroke="#E51E10" stroke-width="1" shape-rendering="crispEdges"/>
<path d="M1208.9 531.5H1214.1L1216.5 533.9V539.1L1214.1 541.5H1208.9L1206.5 539.1V533.9Z" fill="#E51E10" stroke="#E51E10" stroke-width="1.35" stroke-linejoin="round"/><path d="M1205.0 536.5h1M1217.0 536.5h1M1211.5 530.0v1M1211.5 542.0v1" fill="none" stroke="#E51E10" stroke-width="1" shape-rendering="crispEdges"/>
<path d="M1255.9 531.5H1261.1L1263.5 533.9V539.1L1261.1 541.5H1255.9L1253.5 539.1V533.9Z" fill="#E51E10" stroke="#E51E10" stroke-width="1.35" stroke-linejoin="round"/><path d="M1252.0 536.5h1M1264.0 536.5h1M1258.5 530.0v1M1258.5 542.0v1" fill="none" stroke="#E51E10" stroke-width="1" shape-rendering="crispEdges"/>
<path d="M1262.9 531.5H1268.1L1270.5 533.9V539.1L1268.1 541.5H1262.9L1260.5 539.1V533.9Z" fill="#E51E10" stroke="#E51E10" stroke-width="1.35" stroke-linejoin="round"/><path d="M1259.0 536.5h1M1271.0 536.5h1M1265.5 530.0v1M1265.5 542.0v1" fill="none" stroke="#E51E10" stroke-width="1" shape-rendering="crispEdges"/>
<path d="M1308.9 531.5H1314.1L1316.5 533.9V539.1L1314.1 541.5H1308.9L1306.5 539.1V533.9Z" fill="#E51E10" stroke="#E51E10" stroke-width="1.35" stroke-linejoin="round"/><path d="M1305.0 536.5h1M1317.0 536.5h1M1311.5 530.0v1M1311.5 542.0v1" fill="none" stroke="#E51E10" stroke-width="1" shape-rendering="crispEdges"/>
<path d="M1315.9 531.5H1321.1L1323.5 533.9V539.1L1321.1 541.5H1315.9L1313.5 539.1V533.9Z" fill="#E51E10" stroke="#E51E10" stroke-width="1.35" stroke-linejoin="round"/><path d="M1312.0 536.5h1M1324.0 536.5h1M1318.5 530.0v1M1318.5 542.0v1" fill="none" stroke="#E51E10" stroke-width="1" shape-rendering="crispEdges"/>
<path d="M1362.9 531.5H1368.1L1370.5 533.9V539.1L1368.1 541.5H1362.9L1360.5 539.1V533.9Z" fill="#E51E10" stroke="#E51E10" stroke-width="1.35" stroke-linejoin="round"/><path d="M1359.0 536.5h1M1371.0 536.5h1M1365.5 530.0v1M1365.5 542.0v1" fill="none" stroke="#E51E10" stroke-width="1" shape-rendering="crispEdges"/>
<path d="M571.9 360.5H577.1L579.5 362.9V368.1L577.1 370.5H571.9L569.5 368.1V362.9Z" fill="#E51E10" stroke="#E51E10" stroke-width="1.35" stroke-linejoin="round"/><path d="M568.0 365.5h1M580.0 365.5h1M574.5 359.0v1M574.5 371.0v1" fill="none" stroke="#E51E10" stroke-width="1" shape-rendering="crispEdges"/>
<polygon points="1119.5,468.5 1135.5,468.5 1127.5,456.5" fill="none" stroke="#000000" stroke-width="1" shape-rendering="crispEdges"/>
<polygon points="1127.5,468.5 1143.5,468.5 1135.5,456.5" fill="none" stroke="#000000" stroke-width="1" shape-rendering="crispEdges"/>
<polygon points="1164.5,468.5 1180.5,468.5 1172.5,456.5" fill="none" stroke="#000000" stroke-width="1" shape-rendering="crispEdges"/>
<polygon points="1180.5,468.5 1196.5,468.5 1188.5,456.5" fill="none" stroke="#000000" stroke-width="1" shape-rendering="crispEdges"/>
<polygon points="1196.5,468.5 1212.5,468.5 1204.5,456.5" fill="none" stroke="#000000" stroke-width="1" shape-rendering="crispEdges"/>
<polygon points="1209.5,468.5 1225.5,468.5 1217.5,456.5" fill="none" stroke="#000000" stroke-width="1" shape-rendering="crispEdges"/>
<polygon points="1218.5,468.5 1234.5,468.5 1226.5,456.5" fill="none" stroke="#000000" stroke-width="1" shape-rendering="crispEdges"/>
<rect x="94.5" y="57.5" width="1275.0" height="482.0" fill="none" stroke="#000" stroke-width="1"/>
</svg>
</body></html>
